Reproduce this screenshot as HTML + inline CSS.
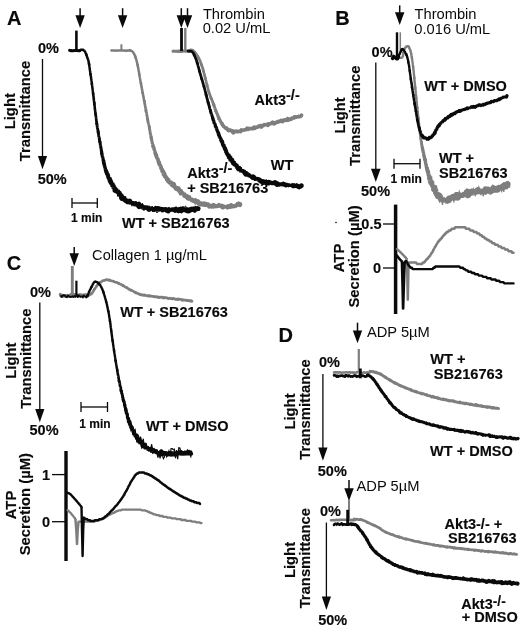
<!DOCTYPE html>
<html><head><meta charset="utf-8"><title>Figure</title>
<style>
html,body{margin:0;padding:0;background:#fff;}
body{width:520px;height:630px;overflow:hidden;}
svg{display:block;will-change:transform;filter:grayscale(1);}
svg text{font-family:"Liberation Sans",sans-serif;fill:#0a0a0a;}
svg text.b{stroke:#0a0a0a;stroke-width:0.15px;}
</style></head><body>
<svg width="520" height="630" viewBox="0 0 520 630">
<rect width="520" height="630" fill="#ffffff"/>
<text x="7" y="25" font-size="20" font-weight="bold" text-anchor="start" class="b">A</text>
<line x1="80.1" y1="8.2" x2="80.1" y2="17.2" stroke="#0a0a0a" stroke-width="1.5" stroke-linecap="butt"/>
<polygon points="75.4,15.2 84.8,15.2 80.1,28" fill="#0a0a0a"/>
<line x1="122.6" y1="8.2" x2="122.6" y2="17.2" stroke="#0a0a0a" stroke-width="1.5" stroke-linecap="butt"/>
<polygon points="117.9,15.2 127.3,15.2 122.6,28" fill="#0a0a0a"/>
<line x1="181.3" y1="8.2" x2="181.3" y2="17.2" stroke="#0a0a0a" stroke-width="1.5" stroke-linecap="butt"/>
<polygon points="176.6,15.2 186,15.2 181.3,28" fill="#0a0a0a"/>
<line x1="187.5" y1="8.2" x2="187.5" y2="17.2" stroke="#0a0a0a" stroke-width="1.5" stroke-linecap="butt"/>
<polygon points="182.8,15.2 192.2,15.2 187.5,28" fill="#0a0a0a"/>
<text x="202.9" y="18.5" font-size="14.7" font-weight="normal" text-anchor="start">Thrombin</text>
<text x="202.7" y="33.2" font-size="14.7" font-weight="normal" text-anchor="start">0.02 U/mL</text>
<text x="38" y="53" font-size="14.5" font-weight="bold" text-anchor="start" class="b">0%</text>
<text x="37.7" y="184" font-size="14.5" font-weight="bold" text-anchor="start" class="b">50%</text>
<line x1="42.5" y1="59" x2="42.5" y2="158" stroke="#0a0a0a" stroke-width="1.3" stroke-linecap="butt"/>
<polygon points="37.9,156 47.1,156 42.5,169.3" fill="#0a0a0a"/>
<text class="b" transform="translate(15.2 111.2) rotate(-90)" font-size="14.8" font-weight="bold" text-anchor="middle">Light</text>
<text class="b" transform="translate(30.4 111) rotate(-90)" font-size="14.8" font-weight="bold" text-anchor="middle">Transmittance</text>
<line x1="72" y1="203" x2="97.3" y2="203" stroke="#0a0a0a" stroke-width="1.3" stroke-linecap="butt"/>
<line x1="72" y1="198" x2="72" y2="208" stroke="#0a0a0a" stroke-width="1.3" stroke-linecap="butt"/>
<line x1="97.3" y1="198" x2="97.3" y2="208" stroke="#0a0a0a" stroke-width="1.3" stroke-linecap="butt"/>
<text x="71" y="221.6" font-size="12" font-weight="bold" text-anchor="start" class="b">1 min</text>
<line x1="76.4" y1="30.6" x2="76.4" y2="50.5" stroke="#0a0a0a" stroke-width="2.6" stroke-linecap="butt"/>
<polyline points="69.6,50.4 70.5,50.7 71.3,50.6 72.2,50.7 73.1,50.8 73.9,50.6 74.8,50.6 75.7,50.4 76.5,50.5 77.4,50.6 78.3,50.7 79.1,50.8 80,50.5" fill="none" stroke="#0a0a0a" stroke-width="3" stroke-linejoin="round" stroke-linecap="round"/>
<polyline points="79.5,50.4 80,50.1 80.6,50.2 81.1,49.7 81.6,49.7 82.1,49.9 82.7,49.5 83.2,50 83.7,50.4 84.2,50.4 84.5,50.9 84.8,51.5 85.1,51.6 85.4,52.4 85.6,53 85.8,53.4 86,53.9 86.2,54.2 86.4,54.9" fill="none" stroke="#0a0a0a" stroke-width="2.5" stroke-linejoin="bevel" stroke-linecap="round"/>
<polyline points="86.2,54.2 86.4,54.9 86.6,55.4 86.8,55.9 87,56.4 87.1,57.2 87.3,57.7 87.5,57.9 87.7,58.6 87.9,59 88.1,59.6 88.2,60.1 88.4,60.7 88.5,61.1 88.6,61.7 88.7,62.4 88.8,62.8 88.9,63.6 89,63.7 89.1,64.6" fill="none" stroke="#0a0a0a" stroke-width="2.5" stroke-linejoin="bevel" stroke-linecap="round"/>
<polyline points="89,63.7 89.1,64.6 89.2,64.9 89.3,65.5 89.4,66.2 89.4,66.6 89.5,67.1 89.6,67.5 89.7,68.1 89.7,68.9 89.8,69.4 89.9,70 90,70.7 90.1,71.1 90.1,71.3 90.2,72 90.3,72.7 90.4,73.1 90.5,74 90.5,74.5" fill="none" stroke="#0a0a0a" stroke-width="2.5" stroke-linejoin="bevel" stroke-linecap="round"/>
<polyline points="90.5,74 90.5,74.5 90.6,75 90.7,75.4 90.8,76.1 90.9,76.3 91,76.9 91,77.6 91.1,78.2 91.2,78.7 91.3,79 91.3,79.7 91.4,80.2 91.5,80.8 91.6,81.2 91.7,81.9 91.7,82.5 91.8,83.2 91.9,83.7 91.9,84.2" fill="none" stroke="#0a0a0a" stroke-width="2.5" stroke-linejoin="bevel" stroke-linecap="round"/>
<polyline points="91.9,83.7 91.9,84.2 92,84.7 92.1,85.4 92.2,86 92.2,86.4 92.3,87 92.4,87.7 92.4,87.8 92.5,88.7 92.6,89 92.6,89.6 92.7,90.3 92.8,90.8 92.8,91.1 92.9,91.9 93,92.1 93,92.8 93.1,93.6 93.2,94" fill="none" stroke="#0a0a0a" stroke-width="2.5" stroke-linejoin="bevel" stroke-linecap="round"/>
<polyline points="93.1,93.6 93.2,94 93.2,94.6 93.3,95.2 93.4,95.9 93.4,96.4 93.5,96.4 93.6,97.2 93.6,97.8 93.7,98.1 93.8,99 93.8,99.6 93.9,100.3 94,100.9 94,100.9 94.1,101.5 94.2,102.4 94.2,102.5 94.3,103.1 94.3,104" fill="none" stroke="#0a0a0a" stroke-width="2.6" stroke-linejoin="bevel" stroke-linecap="round"/>
<polyline points="94.3,103.1 94.3,104 94.4,104.2 94.5,105.2 94.5,105.9 94.6,105.7 94.7,106.7 94.7,107.5 94.8,108.2 94.8,108.1 94.9,108.5 95,109.8 95,110.4 95.1,110.2 95.2,111 95.2,111.8 95.3,112.5 95.4,112.3 95.4,113.4 95.5,114.1" fill="none" stroke="#0a0a0a" stroke-width="2.6" stroke-linejoin="bevel" stroke-linecap="round"/>
<polyline points="95.4,113.4 95.5,114.1 95.6,114.4 95.6,114.5 95.7,114.9 95.8,115.7 95.8,116.9 95.9,116.5 96,117 96,118 96.1,118.1 96.2,118.8 96.3,119.2 96.3,120.4 96.4,121.2 96.5,121.3 96.6,121.5 96.7,122.3 96.7,123.2 96.8,124.2" fill="none" stroke="#0a0a0a" stroke-width="2.7" stroke-linejoin="bevel" stroke-linecap="round"/>
<polyline points="96.7,123.2 96.8,124.2 96.9,124.9 97,124.3 97.1,124.5 97.1,126.3 97.2,127 97.3,126.8 97.4,127.9 97.5,128.6 97.6,128.7 97.7,129.7 97.7,128.9 97.8,129.8 97.9,130.4 98,130.6 98.1,132.5 98.2,131.6 98.3,133.2" fill="none" stroke="#0a0a0a" stroke-width="2.8" stroke-linejoin="bevel" stroke-linecap="round"/>
<polyline points="98.2,131.6 98.3,133.2 98.4,132.7 98.5,133.7 98.6,134.4 98.6,134.5 98.7,135.7 98.8,136.2 98.9,136.4 99,137.7 99.1,137.2 99.2,137.8 99.3,138.6 99.4,139.2 99.5,139.4 99.6,141.3 99.7,141.7 99.8,140.8 99.9,141.9 100,142.2" fill="none" stroke="#0a0a0a" stroke-width="2.9" stroke-linejoin="bevel" stroke-linecap="round"/>
<polyline points="99.9,141.9 100,142.2 100.1,143.1 100.2,143.3 100.3,144.3 100.4,145.7 100.5,145.2 100.6,146.3 100.7,146.7 100.8,147.6 100.9,146.7 101,148.7 101.1,149.7 101.2,149.5 101.3,149.3 101.3,150.7 101.4,151.3 101.5,151.8 101.6,151.2 101.7,153.6" fill="none" stroke="#0a0a0a" stroke-width="3" stroke-linejoin="bevel" stroke-linecap="round"/>
<polyline points="101.6,151.2 101.7,153.6 101.8,154.1 101.9,153.4 102,154.4 102.1,153.6 102.2,156.4 102.3,156.6 102.4,156.7 102.5,157.5 102.7,156.7 102.8,157.5 102.9,157.9 103,159.3 103.1,158.6 103.2,161.1 103.3,160.6 103.4,161.1 103.6,160.7 103.7,162.8" fill="none" stroke="#0a0a0a" stroke-width="3.1" stroke-linejoin="bevel" stroke-linecap="round"/>
<polyline points="103.6,160.7 103.7,162.8 103.8,163.7 103.9,163.7 104.1,163.2 104.2,165.2 104.3,164 104.5,166.4 104.6,166.2 104.7,166 104.9,167.1 105,168 105.2,167.5 105.3,169.6 105.5,169 105.7,170.8 105.8,171.2 106,169.6 106.2,171.7 106.4,171.3" fill="none" stroke="#0a0a0a" stroke-width="3.5" stroke-linejoin="bevel" stroke-linecap="round"/>
<polyline points="106.2,171.7 106.4,171.3 106.6,173.1 106.8,173 107,173.2 107.2,175 107.4,173.1 107.6,175.1 107.8,174.9 108,174.6 108.2,177.2 108.4,177.2 108.7,178.7 108.9,178.3 109.1,178 109.4,180.5 109.6,178.4 109.9,178.7 110.1,181.2 110.4,180.6" fill="none" stroke="#0a0a0a" stroke-width="4.1" stroke-linejoin="bevel" stroke-linecap="round"/>
<polyline points="110.1,181.2 110.4,180.6 110.6,181.1 110.9,183.1 111.1,182 111.4,184.1 111.6,183.9 111.9,183.4 112.2,183.1 112.4,184.1 112.7,186.7 113,185.5 113.3,185.3 113.5,186.1 113.8,188.4 114.1,186.7 114.4,189 114.8,187.6 115.1,190.5 115.4,189.7" fill="none" stroke="#0a0a0a" stroke-width="4.6" stroke-linejoin="bevel" stroke-linecap="round"/>
<polyline points="115.1,190.5 115.4,189.7 115.7,188.7 116.1,191.8 116.4,190.6 116.7,192.1 117.1,192 117.4,191.1 117.8,191.6 118.2,192.2 118.5,192.6 118.9,192.7 119.3,193.1 119.6,196.2 120,194.1 120.4,195.7 120.8,194.9 121.2,195.6 121.6,197.5 122,198.4" fill="none" stroke="#0a0a0a" stroke-width="5" stroke-linejoin="bevel" stroke-linecap="round"/>
<polyline points="121.6,197.5 122,198.4 122.4,197.3 122.8,196.3 123.2,199.5 123.7,197 124.1,198.3 124.5,199.1 125,200.4 125.5,200.5 125.9,200.1 126.4,199.8 126.9,201.4 127.4,201.7 127.9,202 128.4,201.8 128.9,200.2 129.4,201.1 129.9,201.9" fill="none" stroke="#0a0a0a" stroke-width="5" stroke-linejoin="bevel" stroke-linecap="round"/>
<polyline points="129.4,201.1 129.9,201.9 130.4,202.2 130.9,203.4 131.4,201.9 132,203.4 132.5,202.7 133,204.1 133.5,202.6 134.1,203.7 134.6,202.8 135.1,203.3 135.6,205.6 136.2,204 136.7,205.9 137.2,205 137.7,203.7 138.2,206.1 138.7,204.1 139.3,206.6" fill="none" stroke="#0a0a0a" stroke-width="5" stroke-linejoin="bevel" stroke-linecap="round"/>
<polyline points="138.7,204.1 139.3,206.6 139.8,204.3 140.3,206.5 140.8,205.1 141.4,205.8 141.9,207.8 142.4,206.6 143,207.3 143.5,207.7 144,206 144.6,208.3 145.1,208.7 145.6,206.5 146.2,207.9 146.7,207.2 147.3,208.7 147.8,206.7 148.4,208.3 148.9,209.2" fill="none" stroke="#0a0a0a" stroke-width="5" stroke-linejoin="bevel" stroke-linecap="round"/>
<polyline points="148.4,208.3 148.9,209.2 149.4,209.1 150,207.3 150.5,209.6 151.1,207.9 151.6,209.6 152.2,208.8 152.7,207.8 153.3,209.6 153.8,209.8 154.3,209.5 154.9,210.4 155.4,208.3 156,208.2 156.5,208 157.1,209.2 157.6,208.8 158.2,208.7 158.7,209.1" fill="none" stroke="#0a0a0a" stroke-width="5" stroke-linejoin="bevel" stroke-linecap="round"/>
<polyline points="158.2,208.7 158.7,209.1 159.3,208.5 159.9,207.8 160.4,209.2 161,208.6 161.5,209.2 162.1,210.6 162.6,208.4 163.2,209.8 163.7,209.8 164.3,208.8 164.8,209.3 165.4,210.9 165.9,209 166.5,210.1 167.1,210.5 167.6,209.1 168.2,211 168.7,209.9" fill="none" stroke="#0a0a0a" stroke-width="5" stroke-linejoin="bevel" stroke-linecap="round"/>
<polyline points="168.2,211 168.7,209.9 169.3,209.5 169.8,210.1 170.4,209.3 170.9,210.1 171.5,208.8 172,210.8 172.6,209.6 173.1,208.7 173.7,209.3 174.2,210.7 174.8,210.4 175.3,209.5 175.9,209.1 176.5,209.1 177,210.9 177.6,208.3 178.1,210.7 178.7,210.6" fill="none" stroke="#0a0a0a" stroke-width="5" stroke-linejoin="bevel" stroke-linecap="round"/>
<polyline points="178.1,210.7 178.7,210.6 179.2,208.7 179.8,209 180.3,209.7 180.9,210.4 181.4,210.9 182,211 182.5,208.8 183.1,208.6 183.6,209.5 184.2,209.7 184.7,210 185.3,208.3 185.8,209.9 186.4,210.8 186.9,210.7 187.5,210.8 188.1,210.8 188.6,210.9" fill="none" stroke="#0a0a0a" stroke-width="5" stroke-linejoin="bevel" stroke-linecap="round"/>
<polyline points="188.1,210.8 188.6,210.9 189.2,208.1 189.7,210.7 190.3,208.8 190.8,209 191.4,209.4 191.9,210.9 192.5,209.8 193,209.1 193.6,209.1 194.1,210.7 194.7,210.5 195.2,208.4 195.8,208.7 196.3,209.1 196.9,208.7 197.4,209.7 198,208.7" fill="none" stroke="#0a0a0a" stroke-width="5" stroke-linejoin="bevel" stroke-linecap="round"/>
<polyline points="101.4,150.9 101.6,152 101.8,153.1 102,154.1 102.2,155.2 102.4,156.3 102.7,157.5 102.9,158.5 103.1,159.5 103.3,160.6 103.6,161.5 103.8,162.9 104.1,164.1 104.3,164.9 104.6,166.3 104.9,167.1 105.2,168.1 105.5,169.1 105.8,170.2 106.2,172.2 106.6,172.5 107,173.6 107.4,173.4 107.8,175.5 108.2,176.3 108.7,176.2 109.1,178.4 109.6,179 110.1,180.2 110.6,182.8 111.1,183.3 111.6,184.4 112.2,182.3 112.7,184.7 113.3,185.4 113.8,184.9 114.4,185.7 115.1,192.1 115.7,192.8 116.4,190.2 117.1,190.1 117.8,196.1 118.5,194.2 119.3,194.2 120,195 120.8,194.4 121.6,197.4 122.4,199 123.2,198.2 124.1,199.5 125,198.3 125.9,200.6 126.9,203.9 127.9,200 128.9,201.4 129.9,202.9 130.9,202 132,206.2 133,203.3 134.1,203.7 135.1,205.2 136.2,203.3 137.2,207.5 138.2,204.3 139.3,204.7 140.3,205.9 141.4,206.1 142.4,203.3 143.5,206.5 144.6,206.3 145.6,208.7 146.7,208.9 147.8,208.3 148.9,209.4 150,211.1 151.1,207.8 152.2,206 153.3,209.6 154.3,207.7 155.4,207.8 156.5,212.5 157.6,212.5 158.7,209.3 159.9,209.5 161,210.5 162.1,212.4 163.2,209.3 164.3,209.6 165.4,207.5 166.5,207.6 167.6,209.5 168.7,207.5 169.8,208.3 170.9,209.2 172,211.3 173.1,208.9 174.2,212.1 175.3,211 176.5,209.9 177.6,212.3 178.7,208.4 179.8,208.7 180.9,212.4 182,212.4 183.1,206.5 184.2,210.2 185.3,206 186.4,206.9 187.5,208.5 188.6,209 189.7,208.7 190.8,212.5 191.9,209 193,206.8 194.1,207.9 195.2,205.9 196.3,208.3 197.4,209" fill="none" stroke="#0a0a0a" stroke-width="1" stroke-linejoin="miter" stroke-linecap="butt"/>
<line x1="121.4" y1="44.3" x2="121.4" y2="50.5" stroke="#7e7e7e" stroke-width="2" stroke-linecap="butt"/>
<polyline points="111.4,50.4 112.3,50.5 113.1,50.4 114,50.6 114.9,50.5 115.7,50.7 116.6,50.6 117.5,50.4 118.3,50.4 119.2,50.6 120.1,50.5 121,50.3 121.8,50.6 122.7,50.5 123.6,50.6 124.4,50.6 125.3,50.7 126.2,50.6 127,50.7 127.9,50.4 128.8,50.4 129.6,50.3 130.5,50.6" fill="none" stroke="#7e7e7e" stroke-width="2.5" stroke-linejoin="round" stroke-linecap="round"/>
<polyline points="129.8,50.1 130.4,50.5 130.9,50.7 131.4,51.1 131.8,51.1 132.3,51.3 132.7,51.8 133,52.1 133.4,52.7 133.7,53.3 134,53.5 134.2,54.4 134.5,54.7 134.7,55 134.9,55.8 135.1,56 135.3,56.6 135.5,57.4" fill="none" stroke="#7e7e7e" stroke-width="2.5" stroke-linejoin="bevel" stroke-linecap="round"/>
<polyline points="135.3,56.6 135.5,57.4 135.7,57.6 135.8,58.4 136,58.6 136.2,59.3 136.3,59.9 136.5,60.3 136.6,60.9 136.8,61.5 136.9,62.1 137,62.4 137.2,63.1 137.3,63.9 137.4,64.1 137.5,64.9 137.7,65.1 137.8,65.8" fill="none" stroke="#7e7e7e" stroke-width="2.5" stroke-linejoin="bevel" stroke-linecap="round"/>
<polyline points="137.7,65.1 137.8,65.8 137.9,66.4 138,66.9 138.1,67.5 138.2,68.1 138.3,68.6 138.4,69.2 138.5,69.8 138.6,70.1 138.7,70.9 138.8,71.2 138.9,71.7 139,72.2 139.1,73 139.1,73.5 139.2,73.8 139.3,74.6 139.4,74.8" fill="none" stroke="#7e7e7e" stroke-width="2.5" stroke-linejoin="bevel" stroke-linecap="round"/>
<polyline points="139.3,74.6 139.4,74.8 139.5,75.6 139.6,76.2 139.7,76.8 139.8,77.1 139.9,77.6 140,78.4 140.1,79 140.2,79.6 140.3,79.9 140.4,80.6 140.5,81.2 140.6,81.8 140.7,82.1 140.8,82.9 140.9,83.1 141,83.6" fill="none" stroke="#7e7e7e" stroke-width="2.5" stroke-linejoin="bevel" stroke-linecap="round"/>
<polyline points="140.9,83.1 141,83.6 141.1,84.2 141.2,85 141.3,85.7 141.4,85.9 141.5,86.6 141.6,86.8 141.7,87.6 141.8,88.1 141.9,88.6 142,89 142.1,89.8 142.2,90.4 142.3,90.9 142.4,91.6 142.5,91.9 142.6,92.8 142.7,93.1" fill="none" stroke="#7e7e7e" stroke-width="2.6" stroke-linejoin="bevel" stroke-linecap="round"/>
<polyline points="142.6,92.8 142.7,93.1 142.8,93.9 142.9,94 143,94.8 143.1,94.9 143.2,95.3 143.3,96.7 143.4,96.7 143.5,96.9 143.7,98 143.8,98.9 143.9,99.3 144,100 144.1,100.5 144.2,100.6 144.3,100.9 144.4,101.2" fill="none" stroke="#7e7e7e" stroke-width="2.6" stroke-linejoin="bevel" stroke-linecap="round"/>
<polyline points="144.3,100.9 144.4,101.2 144.5,102 144.6,102.9 144.7,103.8 144.8,103.3 144.9,104.8 145,105.3 145.1,105.7 145.2,105.6 145.3,106 145.4,107.4 145.5,107.9 145.6,108 145.7,108.6 145.8,108.7 145.9,110.5 146,110.8" fill="none" stroke="#7e7e7e" stroke-width="2.7" stroke-linejoin="bevel" stroke-linecap="round"/>
<polyline points="145.9,110.5 146,110.8 146.1,111.6 146.2,111.9 146.3,112 146.4,113 146.5,112.7 146.6,113.9 146.7,113.8 146.8,114.6 146.9,115.8 147,115.7 147.1,117 147.2,117.1 147.3,117.1 147.4,117.6 147.5,117.8 147.6,119.2 147.7,120.2" fill="none" stroke="#7e7e7e" stroke-width="2.8" stroke-linejoin="bevel" stroke-linecap="round"/>
<polyline points="147.6,119.2 147.7,120.2 147.8,119.7 147.9,120.7 148,122.1 148.1,121.6 148.2,123.1 148.3,123.4 148.5,123.4 148.6,124.2 148.7,123.8 148.8,125.1 148.9,126.1 149,125.7 149.1,125.9 149.2,126.4 149.3,127.2 149.4,127.8" fill="none" stroke="#7e7e7e" stroke-width="2.8" stroke-linejoin="bevel" stroke-linecap="round"/>
<polyline points="149.3,127.2 149.4,127.8 149.5,129.4 149.6,129.3 149.7,130 149.8,130.1 149.9,130.6 150,131.7 150.1,132.6 150.2,132 150.3,133.1 150.4,134 150.5,135.2 150.6,134.4 150.7,135.2 150.9,136.1 151,135.7 151.1,137.2 151.2,138.5" fill="none" stroke="#7e7e7e" stroke-width="2.9" stroke-linejoin="bevel" stroke-linecap="round"/>
<polyline points="151.1,137.2 151.2,138.5 151.3,137.6 151.4,138.6 151.5,138.4 151.6,139.8 151.7,141.3 151.8,140.9 152,140.7 152.1,141.5 152.2,142.7 152.3,143.8 152.4,143.4 152.6,144 152.7,145.3 152.8,144.2 153,146.7 153.1,146.1" fill="none" stroke="#7e7e7e" stroke-width="3.1" stroke-linejoin="bevel" stroke-linecap="round"/>
<polyline points="153,146.7 153.1,146.1 153.3,146.3 153.4,147.9 153.6,147.2 153.7,147.4 153.9,148.2 154.1,149.8 154.2,148.9 154.4,150.3 154.6,150.3 154.8,151.5 154.9,151.1 155.1,153.2 155.3,154.1 155.5,153.1 155.7,153.7 155.9,154.8 156.1,155.7" fill="none" stroke="#7e7e7e" stroke-width="3.5" stroke-linejoin="bevel" stroke-linecap="round"/>
<polyline points="155.9,154.8 156.1,155.7 156.3,154.4 156.5,156.6 156.7,157.5 156.9,157.9 157.1,157.5 157.3,159.1 157.5,158.8 157.7,158.4 157.9,159.1 158.1,160.5 158.3,160.9 158.5,162.1 158.7,162.4 158.9,161.5 159.1,162.5 159.3,164.1" fill="none" stroke="#7e7e7e" stroke-width="3.7" stroke-linejoin="bevel" stroke-linecap="round"/>
<polyline points="159.1,162.5 159.3,164.1 159.5,163.8 159.7,163.6 159.9,166.2 160.1,165.3 160.3,165.4 160.5,166.5 160.8,166.5 161,166.9 161.2,168.5 161.4,169.4 161.6,168.9 161.8,168.7 162.1,170.1 162.3,170.4 162.5,171 162.8,170.9" fill="none" stroke="#7e7e7e" stroke-width="3.9" stroke-linejoin="bevel" stroke-linecap="round"/>
<polyline points="162.5,171 162.8,170.9 163,172.9 163.2,171.8 163.5,171.9 163.7,174.2 164,174.8 164.2,173.9 164.5,174.2 164.8,175.8 165.1,177.2 165.3,175.8 165.6,177 165.9,176.7 166.2,178.5 166.5,178.1 166.8,178.3 167.2,179.5 167.5,179.6" fill="none" stroke="#7e7e7e" stroke-width="4.3" stroke-linejoin="bevel" stroke-linecap="round"/>
<polyline points="167.2,179.5 167.5,179.6 167.8,179.1 168.2,180.1 168.6,182 169,182 169.3,181.6 169.7,182.4 170.1,181.3 170.5,182.5 170.9,184.2 171.4,182.6 171.8,185.2 172.2,185.2 172.6,185.1 173,184.6 173.5,184.2 173.9,185.1" fill="none" stroke="#7e7e7e" stroke-width="4.6" stroke-linejoin="bevel" stroke-linecap="round"/>
<polyline points="173.5,184.2 173.9,185.1 174.3,186.8 174.7,186.2 175.2,187.7 175.6,186.4 176,188.5 176.4,188.9 176.8,188.9 177.2,187.8 177.7,188.3 178.1,188.2 178.5,188.5 178.9,190.8 179.3,190.5 179.7,191.7 180.1,190.7 180.6,191.2 181,193.2" fill="none" stroke="#7e7e7e" stroke-width="4.6" stroke-linejoin="bevel" stroke-linecap="round"/>
<polyline points="180.6,191.2 181,193.2 181.4,193.8 181.8,191.7 182.3,194 182.7,193.7 183.1,192.6 183.5,194.6 184,194.1 184.4,194.6 184.8,196.7 185.3,196.4 185.7,194.8 186.2,196.9 186.6,195.4 187.1,198.2 187.5,197.7 188,198.1" fill="none" stroke="#7e7e7e" stroke-width="4.6" stroke-linejoin="bevel" stroke-linecap="round"/>
<polyline points="187.5,197.7 188,198.1 188.4,196.7 188.9,197.1 189.3,198.7 189.8,198.5 190.3,200 190.7,198.8 191.2,199.3 191.7,198.8 192.2,200.1 192.6,201.6 193.1,199.9 193.6,201.5 194.1,200 194.6,202.2 195.1,201.4 195.6,200.5" fill="none" stroke="#7e7e7e" stroke-width="4.6" stroke-linejoin="bevel" stroke-linecap="round"/>
<polyline points="195.1,201.4 195.6,200.5 196.1,202.6 196.6,203.1 197.2,201.2 197.7,201.4 198.2,201.9 198.7,202.9 199.3,204.3 199.8,204.2 200.3,202.9 200.9,202.3 201.4,204.1 201.9,204.2 202.5,203.4 203,204.6 203.6,205.8 204.1,203.6 204.7,204.3" fill="none" stroke="#7e7e7e" stroke-width="4.6" stroke-linejoin="bevel" stroke-linecap="round"/>
<polyline points="204.1,203.6 204.7,204.3 205.2,205.9 205.8,204.1 206.3,204.1 206.8,204.4 207.4,206.2 207.9,204.5 208.5,204.5 209,206.1 209.6,206.5 210.1,206.6 210.7,205.7 211.2,207.1 211.8,205 212.3,205.9 212.8,205.7 213.4,206.2" fill="none" stroke="#7e7e7e" stroke-width="4.6" stroke-linejoin="bevel" stroke-linecap="round"/>
<polyline points="212.8,205.7 213.4,206.2 213.9,205.2 214.5,205.1 215,207.5 215.6,205.6 216.1,206.2 216.7,207.4 217.2,205.7 217.8,205.9 218.4,206.4 218.9,205.1 219.5,205 220,206.7 220.6,206 221.2,205.2 221.7,205.8 222.3,206.9 222.8,207.1" fill="none" stroke="#7e7e7e" stroke-width="4.6" stroke-linejoin="bevel" stroke-linecap="round"/>
<polyline points="222.3,206.9 222.8,207.1 223.4,206.4 224,205.6 224.5,207.4 225.1,205.6 225.6,207.2 226.2,205.5 226.7,207.7 227.3,207.2 227.8,206.5 228.4,206.3 228.9,206.7 229.5,206.9 230,206.7 230.6,207 231.1,205.3 231.6,206.2" fill="none" stroke="#7e7e7e" stroke-width="4.6" stroke-linejoin="bevel" stroke-linecap="round"/>
<polyline points="231.1,205.3 231.6,206.2 232.2,207.1 232.7,206.2 233.2,207.6 233.7,206.2 234.3,205.4 234.8,206.9 235.3,205.4 235.9,205.5 236.4,205.6 236.9,205.9 237.4,203.9 237.9,205.5 238.5,204.4 239,203.6 239.5,203.3 240,204.8" fill="none" stroke="#7e7e7e" stroke-width="4.6" stroke-linejoin="bevel" stroke-linecap="round"/>
<polyline points="150.4,133.7 150.6,134.8 150.9,135.9 151.1,137 151.3,138.1 151.5,139.1 151.7,140.3 152,141.4 152.2,142.2 152.4,143.4 152.7,144.5 153,145.6 153.3,146.4 153.6,147.4 153.9,148.7 154.2,149.8 154.6,150.4 154.9,152.4 155.3,152.9 155.7,153.8 156.1,155.4 156.5,156.7 156.9,156.8 157.3,157 157.7,159.6 158.1,160.9 158.5,161.6 158.9,162.5 159.3,163.6 159.7,164.2 160.1,164.7 160.5,165.1 161,167.9 161.4,168.8 161.8,168.8 162.3,170.1 162.8,171.3 163.2,173.1 163.7,172.3 164.2,173.8 164.8,174.9 165.3,175.5 165.9,177.8 166.5,178.3 167.2,178.9 167.8,182.9 168.6,182.9 169.3,180.7 170.1,181.7 170.9,182.9 171.8,181.1 172.6,186.3 173.5,187.1 174.3,185.6 175.2,189.4 176,187.9 176.8,186.5 177.7,189.3 178.5,190.9 179.3,191 180.1,194.3 181,194.7 181.8,192.6 182.7,193.1 183.5,193.2 184.4,194.8 185.3,193.7 186.2,194 187.1,197.8 188,194.6 188.9,197.5 189.8,199.9 190.7,199.8 191.7,199.7 192.6,202.3 193.6,200.1 194.6,199.3 195.6,201.7 196.6,199.5 197.7,203.6 198.7,203.8 199.8,205.2 200.9,206.1 201.9,203 203,204.1 204.1,205.5 205.2,207.1 206.3,205.8 207.4,205.8 208.5,205.1 209.6,204.3 210.7,204.9 211.8,208.6 212.8,205.6 213.9,207.2 215,205 216.1,206.9 217.2,206.4 218.4,205.2 219.5,206.7 220.6,206.8 221.7,206.8 222.8,207.7 224,206.8 225.1,208.2 226.2,206.2 227.3,209.4 228.4,206.4 229.5,205 230.6,207.6 231.6,205.1 232.7,206 233.7,207.4 234.8,207.7 235.9,205 236.9,202 237.9,204.6 239,204.6 240,205" fill="none" stroke="#7e7e7e" stroke-width="1" stroke-linejoin="miter" stroke-linecap="butt"/>
<polyline points="173,51.2 173.8,51.1 174.7,51.3 175.6,51.2 176.4,51.2 177.2,51.4 178.1,51.1 178.9,51.6 179.8,51.1 180.7,51.6 181.5,51.1 182.3,51.6 183.2,51 184.1,51 184.9,51.1 185.8,51.4 186.6,51.1 187.4,51.2 188.3,51.4 189.2,51 190,51.3" fill="none" stroke="#7e7e7e" stroke-width="3" stroke-linejoin="round" stroke-linecap="round"/>
<line x1="185.3" y1="28" x2="185.3" y2="51" stroke="#7e7e7e" stroke-width="2.4" stroke-linecap="butt"/>
<line x1="181.5" y1="28" x2="181.5" y2="51" stroke="#0a0a0a" stroke-width="2.8" stroke-linecap="butt"/>
<polyline points="189,51 189.5,50.4 190,50.4 190.6,49.9 191.1,49.8 191.5,49.9 192,50 192.5,50 192.9,50.3 193.4,51.1 193.8,51.3 194.2,51.7 194.6,52 195,52.6" fill="none" stroke="#7e7e7e" stroke-width="2.7" stroke-linejoin="bevel" stroke-linecap="round"/>
<polyline points="194.6,52 195,52.6 195.3,52.9 195.7,53.4 196,53.8 196.3,54 196.6,54.7 196.9,55.3 197.2,55.6 197.5,56 197.8,56.3 198.1,57.1 198.3,57.5 198.6,57.9 198.9,58.4" fill="none" stroke="#7e7e7e" stroke-width="2.7" stroke-linejoin="bevel" stroke-linecap="round"/>
<polyline points="198.6,57.9 198.9,58.4 199.1,58.9 199.4,59.4 199.6,59.9 199.8,60.5 200.1,60.8 200.3,61.4 200.5,62 200.7,62.7 200.9,63 201.1,63.6 201.3,64.2 201.5,64.7 201.7,65.2" fill="none" stroke="#7e7e7e" stroke-width="2.7" stroke-linejoin="bevel" stroke-linecap="round"/>
<polyline points="201.5,64.7 201.7,65.2 201.8,65.7 202,66.2 202.2,66.5 202.3,67 202.5,67.5 202.7,68.1 202.8,68.8 203,69.4 203.1,69.7 203.3,70.5 203.4,70.9 203.5,71.5" fill="none" stroke="#7e7e7e" stroke-width="2.7" stroke-linejoin="bevel" stroke-linecap="round"/>
<polyline points="203.4,70.9 203.5,71.5 203.7,71.8 203.8,72.7 204,72.9 204.1,73.5 204.2,74.1 204.4,74.7 204.5,75.2 204.7,75.9 204.8,76.1 205,76.9 205.1,77.3 205.2,78 205.4,78.5" fill="none" stroke="#7e7e7e" stroke-width="2.7" stroke-linejoin="bevel" stroke-linecap="round"/>
<polyline points="205.2,78 205.4,78.5 205.5,79.1 205.7,79.6 205.8,80.1 205.9,80.4 206.1,81.1 206.2,81.8 206.3,82.3 206.4,82.9 206.6,83.2 206.7,83.6 206.8,84.4 207,84.8 207.1,85.5" fill="none" stroke="#7e7e7e" stroke-width="2.7" stroke-linejoin="bevel" stroke-linecap="round"/>
<polyline points="207,84.8 207.1,85.5 207.2,85.8 207.4,86.4 207.5,87.1 207.6,87.4 207.8,88 207.9,88.4 208.1,89.4 208.2,89.8 208.4,90.3 208.5,90.8 208.7,91.6 208.8,91.7" fill="none" stroke="#7e7e7e" stroke-width="2.7" stroke-linejoin="bevel" stroke-linecap="round"/>
<polyline points="208.7,91.6 208.8,91.7 209,92.5 209.1,92.6 209.3,93.5 209.5,93.7 209.7,94.1 209.9,95.2 210.1,95.3 210.3,96.3 210.5,96.6 210.7,97.1 210.9,97.6 211.1,98.4 211.3,98.3" fill="none" stroke="#7e7e7e" stroke-width="2.8" stroke-linejoin="bevel" stroke-linecap="round"/>
<polyline points="211.1,98.4 211.3,98.3 211.5,99.4 211.7,99.4 211.9,99.7 212.1,101 212.3,100.7 212.5,101.6 212.8,102.4 213,102.4 213.2,103.4 213.4,103.8 213.5,104.4 213.7,104.4 213.9,105.4" fill="none" stroke="#7e7e7e" stroke-width="2.9" stroke-linejoin="bevel" stroke-linecap="round"/>
<polyline points="213.7,104.4 213.9,105.4 214.1,106.1 214.3,105.9 214.5,107.3 214.7,107.8 214.8,107.6 215,108.9 215.2,109.4 215.4,109 215.6,110.2 215.7,111 215.9,111.4 216.1,111.1" fill="none" stroke="#7e7e7e" stroke-width="3" stroke-linejoin="bevel" stroke-linecap="round"/>
<polyline points="215.9,111.4 216.1,111.1 216.3,111.9 216.5,112.6 216.7,112.9 216.9,113.4 217.1,113.6 217.3,113.9 217.5,114.8 217.8,115.5 218,116.2 218.2,117.2 218.4,116.6 218.6,117.4 218.9,118.7" fill="none" stroke="#7e7e7e" stroke-width="3.1" stroke-linejoin="bevel" stroke-linecap="round"/>
<polyline points="218.6,117.4 218.9,118.7 219.1,119.1 219.3,118.6 219.6,119.9 219.8,119.6 220.1,121.4 220.3,120.8 220.6,121.9 220.9,122.1 221.2,122.7 221.4,122.7 221.7,123.4 222,123.7 222.3,124.6" fill="none" stroke="#7e7e7e" stroke-width="3.3" stroke-linejoin="bevel" stroke-linecap="round"/>
<polyline points="222,123.7 222.3,124.6 222.7,124.7 223,125.4 223.3,125.8 223.7,126.4 224.1,127.3 224.5,127 224.9,127.4 225.3,127.9 225.8,128.2 226.2,128.3 226.7,128.3 227.1,129.1" fill="none" stroke="#7e7e7e" stroke-width="3.6" stroke-linejoin="bevel" stroke-linecap="round"/>
<polyline points="226.7,128.3 227.1,129.1 227.6,128.9 228,129.9 228.5,130.6 229,130.7 229.5,131 230,130.1 230.5,130.1 231.1,130.6 231.6,131.5 232.1,130.8 232.7,130.8 233.2,132.7 233.7,131.4" fill="none" stroke="#7e7e7e" stroke-width="3.7" stroke-linejoin="bevel" stroke-linecap="round"/>
<polyline points="233.2,132.7 233.7,131.4 234.3,130.8 234.8,131.7 235.4,132 235.9,131.5 236.5,130.8 237,131.5 237.6,130.5 238.1,131.8 238.7,132.1 239.2,130.3 239.8,131.2 240.3,131.6 240.9,131.1" fill="none" stroke="#7e7e7e" stroke-width="3.8" stroke-linejoin="bevel" stroke-linecap="round"/>
<polyline points="240.3,131.6 240.9,131.1 241.4,130 241.9,129.7 242.5,130.4 243,129.4 243.5,130.8 244.1,130 244.6,129.5 245.1,130.2 245.7,129 246.2,129.4 246.7,129.3 247.3,128.3" fill="none" stroke="#7e7e7e" stroke-width="3.8" stroke-linejoin="bevel" stroke-linecap="round"/>
<polyline points="246.7,129.3 247.3,128.3 247.8,129.6 248.3,129.3 248.9,128.2 249.4,128.5 250,128.1 250.5,129.3 251,128.6 251.6,129.1 252.1,128.6 252.7,128.5 253.2,127.4 253.7,128.4 254.3,127.3" fill="none" stroke="#7e7e7e" stroke-width="3.8" stroke-linejoin="bevel" stroke-linecap="round"/>
<polyline points="253.7,128.4 254.3,127.3 254.8,128.1 255.4,127.8 255.9,127.3 256.4,126.5 257,127.2 257.5,127.1 258.1,127.1 258.6,125.8 259.1,126 259.7,126.5 260.2,127 260.8,125.6 261.3,126.8" fill="none" stroke="#7e7e7e" stroke-width="3.8" stroke-linejoin="bevel" stroke-linecap="round"/>
<polyline points="260.8,125.6 261.3,126.8 261.8,126.9 262.4,125 262.9,126.1 263.5,125.3 264,124.7 264.5,124.7 265.1,124.9 265.6,124.1 266.1,125.3 266.7,124.7 267.2,124.3 267.7,125.2" fill="none" stroke="#7e7e7e" stroke-width="3.8" stroke-linejoin="bevel" stroke-linecap="round"/>
<polyline points="267.2,124.3 267.7,125.2 268.3,125.3 268.8,124.1 269.4,123.7 269.9,124.2 270.4,123.6 271,124.5 271.5,123.1 272,122.7 272.6,122.3 273.1,122.5 273.6,122.2 274.2,123.7 274.7,123.1" fill="none" stroke="#7e7e7e" stroke-width="3.8" stroke-linejoin="bevel" stroke-linecap="round"/>
<polyline points="274.2,123.7 274.7,123.1 275.2,122.7 275.8,123.3 276.3,122.5 276.8,122.6 277.4,121.3 277.9,121.5 278.5,122 279,122.3 279.5,121 280.1,121.2 280.6,120.8 281.1,120.6 281.7,121.1" fill="none" stroke="#7e7e7e" stroke-width="3.8" stroke-linejoin="bevel" stroke-linecap="round"/>
<polyline points="281.1,120.6 281.7,121.1 282.2,121.6 282.7,121.6 283.3,120.7 283.8,119.4 284.3,119.8 284.9,120.4 285.4,120.8 286,119.2 286.5,120.4 287,120.4 287.6,118.6 288.1,120.1" fill="none" stroke="#7e7e7e" stroke-width="3.8" stroke-linejoin="bevel" stroke-linecap="round"/>
<polyline points="287.6,118.6 288.1,120.1 288.6,119.4 289.2,119.8 289.7,119.3 290.2,119.2 290.8,119.4 291.3,119.1 291.8,118.2 292.4,118 292.9,119.1 293.5,117.5 294,117.6 294.5,117 295.1,117.3" fill="none" stroke="#7e7e7e" stroke-width="3.8" stroke-linejoin="bevel" stroke-linecap="round"/>
<polyline points="294.5,117 295.1,117.3 295.6,117.6 296.1,116.7 296.7,117 297.2,117.3 297.7,116.7 298.3,117.3 298.8,116.7 299.4,116.2 299.9,116.8 300.4,116.4 301,116 301.5,115.3" fill="none" stroke="#7e7e7e" stroke-width="3.8" stroke-linejoin="bevel" stroke-linecap="round"/>
<polyline points="215.2,108.9 215.6,109.9 215.9,111 216.3,112 216.7,113.2 217.1,114 217.5,114.8 218,116.3 218.4,117.5 218.9,118.1 219.3,119.4 219.8,120 220.3,121.8 220.9,121.9 221.4,123.2 222,124.3 222.7,124.7 223.3,126.6 224.1,126.8 224.9,127.1 225.8,126.6 226.7,128.9 227.6,128.9 228.5,129.9 229.5,129.3 230.5,129 231.6,129.7 232.7,132.2 233.7,131.1 234.8,131.3 235.9,132 237,131.1 238.1,131.3 239.2,131 240.3,132.3 241.4,130.6 242.5,129.4 243.5,131 244.6,129.3 245.7,130.2 246.7,129.5 247.8,128.3 248.9,129.2 250,129.7 251,128.2 252.1,127.2 253.2,126 254.3,129.4 255.4,129.7 256.4,126.8 257.5,126.6 258.6,127.4 259.7,126.9 260.8,126.8 261.8,126.4 262.9,126 264,126 265.1,124.3 266.1,124.8 267.2,125.6 268.3,123.4 269.4,122.9 270.4,123.7 271.5,123.7 272.6,120.9 273.6,124.2 274.7,123.7 275.8,121.1 276.8,121.7 277.9,121.3 279,121.2 280.1,122.1 281.1,120.9 282.2,122.8 283.3,119 284.3,119 285.4,120 286.5,119.1 287.6,118.8 288.6,119.5 289.7,118.7 290.8,119.6 291.8,117.1 292.9,117.8 294,118.5 295.1,118 296.1,116.7 297.2,116.9 298.3,114.9 299.4,115.8 300.4,116.4 301.5,114.1" fill="none" stroke="#7e7e7e" stroke-width="1" stroke-linejoin="miter" stroke-linecap="butt"/>
<polyline points="188,50.9 188.6,51.2 189.2,51.2 189.8,50.9 190.3,51.2 190.8,51.2 191.2,51.3 191.6,51.5 192,51.7 192.4,52 192.7,52.4 193,52.7 193.4,53.2 193.7,53.8 194,54.6 194.2,55" fill="none" stroke="#0a0a0a" stroke-width="2.7" stroke-linejoin="bevel" stroke-linecap="round"/>
<polyline points="194,54.6 194.2,55 194.5,55.7 194.8,56.4 195,56.7 195.2,57.3 195.5,57.8 195.7,58.6 195.9,59 196.1,59.2 196.3,59.7 196.5,60.3 196.6,61.1 196.8,61.4 197,62.1 197.1,62.6 197.3,63.2" fill="none" stroke="#0a0a0a" stroke-width="2.7" stroke-linejoin="bevel" stroke-linecap="round"/>
<polyline points="197.1,62.6 197.3,63.2 197.5,63.6 197.6,64 197.8,64.6 197.9,65.3 198,65.9 198.2,66.2 198.3,66.8 198.5,67.4 198.6,67.8 198.8,68.3 198.9,68.8 199,69.5 199.2,69.9 199.3,70.7 199.5,71.2" fill="none" stroke="#0a0a0a" stroke-width="2.7" stroke-linejoin="bevel" stroke-linecap="round"/>
<polyline points="199.3,70.7 199.5,71.2 199.6,71.8 199.8,72.3 199.9,72.7 200.1,73.1 200.2,73.7 200.4,74.4 200.5,74.9 200.7,75.2 200.9,75.9 201,76.5 201.2,77.1 201.3,77.6 201.5,78.2 201.6,78.5 201.8,79.1" fill="none" stroke="#0a0a0a" stroke-width="2.7" stroke-linejoin="bevel" stroke-linecap="round"/>
<polyline points="201.6,78.5 201.8,79.1 202,79.4 202.1,80.2 202.3,80.6 202.4,81.1 202.6,81.6 202.7,82.3 202.9,82.7 203,83.2 203.2,83.8 203.3,84.5 203.5,84.8 203.6,85.2 203.8,85.8 203.9,86.6 204.1,86.8" fill="none" stroke="#0a0a0a" stroke-width="2.7" stroke-linejoin="bevel" stroke-linecap="round"/>
<polyline points="203.9,86.6 204.1,86.8 204.2,87.6 204.4,88.1 204.5,88.6 204.7,89.1 204.8,89.7 204.9,90 205.1,90.7 205.2,91.2 205.4,91.7 205.5,92.4 205.6,92.8 205.8,93.2 205.9,93.8 206,94.4 206.2,95.1" fill="none" stroke="#0a0a0a" stroke-width="2.7" stroke-linejoin="bevel" stroke-linecap="round"/>
<polyline points="206,94.4 206.2,95.1 206.3,95.7 206.4,96.1 206.6,96.4 206.7,97.2 206.9,97.9 207,98 207.1,98.7 207.3,99.1 207.4,99.9 207.6,100.2 207.7,101.2 207.8,101.4 208,102 208.1,102.4 208.3,102.9" fill="none" stroke="#0a0a0a" stroke-width="2.8" stroke-linejoin="bevel" stroke-linecap="round"/>
<polyline points="208.1,102.4 208.3,102.9 208.4,103.3 208.6,104.3 208.7,104.5 208.9,105 209,105.6 209.2,106 209.3,106.6 209.5,107.1 209.6,108.2 209.8,108.7 209.9,108.7 210.1,109.7 210.2,109.6 210.4,110.6 210.5,111.3" fill="none" stroke="#0a0a0a" stroke-width="2.9" stroke-linejoin="bevel" stroke-linecap="round"/>
<polyline points="210.4,110.6 210.5,111.3 210.7,111.3 210.8,111.8 211,112.9 211.1,113.3 211.3,114.1 211.4,113.9 211.6,114.4 211.8,114.8 211.9,115.6 212.1,115.9 212.3,117 212.4,116.9 212.6,117.8 212.8,118.4" fill="none" stroke="#0a0a0a" stroke-width="3" stroke-linejoin="bevel" stroke-linecap="round"/>
<polyline points="212.6,117.8 212.8,118.4 212.9,118.5 213.1,119.7 213.3,120.5 213.5,120.4 213.7,121 213.9,121.4 214,122.6 214.2,123 214.4,123.7 214.6,123.5 214.8,123.9 215,124 215.2,124.6 215.4,126.3 215.6,126.3" fill="none" stroke="#0a0a0a" stroke-width="3.2" stroke-linejoin="bevel" stroke-linecap="round"/>
<polyline points="215.4,126.3 215.6,126.3 215.8,126.6 216,126.8 216.2,128.3 216.4,127.6 216.6,129 216.8,129.4 217,130.1 217.2,130.6 217.4,131.1 217.6,131.4 217.8,131.8 218,132.8 218.2,132.3 218.4,133.1 218.6,134.3" fill="none" stroke="#0a0a0a" stroke-width="3.3" stroke-linejoin="bevel" stroke-linecap="round"/>
<polyline points="218.4,133.1 218.6,134.3 218.8,135 219,135.2 219.2,134.8 219.4,136.5 219.6,137.2 219.8,136.9 220,137.3 220.2,137.8 220.4,138.7 220.7,138.5 220.9,138.9 221.1,140.9 221.3,140.6 221.5,141.1 221.8,141.2" fill="none" stroke="#0a0a0a" stroke-width="3.5" stroke-linejoin="bevel" stroke-linecap="round"/>
<polyline points="221.5,141.1 221.8,141.2 222,141.3 222.2,141.8 222.4,142.3 222.7,144 222.9,144.6 223.1,145.4 223.3,146 223.6,145 223.8,145.3 224,147 224.3,146.8 224.5,148.5 224.7,148.2 225,148.6 225.2,149.1" fill="none" stroke="#0a0a0a" stroke-width="3.8" stroke-linejoin="bevel" stroke-linecap="round"/>
<polyline points="225,148.6 225.2,149.1 225.4,149.3 225.7,150.3 225.9,150.1 226.2,152.2 226.4,152.3 226.7,152.9 226.9,153.6 227.2,153.6 227.5,154.5 227.7,154.7 228,154.6 228.3,154.1 228.5,155.6 228.8,156.2 229.1,157.1" fill="none" stroke="#0a0a0a" stroke-width="4.1" stroke-linejoin="bevel" stroke-linecap="round"/>
<polyline points="228.8,156.2 229.1,157.1 229.4,157.8 229.7,157.8 229.9,157 230.2,157.5 230.5,159.7 230.8,160.1 231.2,159.5 231.5,159.2 231.8,159.7 232.1,160.2 232.4,162.4 232.8,161.7 233.1,162.3 233.5,163.5 233.8,162.6" fill="none" stroke="#0a0a0a" stroke-width="4.5" stroke-linejoin="bevel" stroke-linecap="round"/>
<polyline points="233.5,163.5 233.8,162.6 234.2,163.7 234.6,164.2 234.9,164.3 235.3,164.1 235.7,165.2 236.1,164.9 236.5,165.8 236.9,166.3 237.3,166.3 237.7,168.5 238.1,168.2 238.5,169.1 238.9,169.5 239.3,168.4 239.7,168.5" fill="none" stroke="#0a0a0a" stroke-width="4.6" stroke-linejoin="bevel" stroke-linecap="round"/>
<polyline points="239.3,168.4 239.7,168.5 240.2,170.7 240.6,170 241,170.7 241.4,171.5 241.9,170.6 242.3,171.5 242.7,171.2 243.2,171.3 243.6,171.2 244,171.9 244.5,172.2 244.9,173.6 245.4,173.4 245.9,174.3" fill="none" stroke="#0a0a0a" stroke-width="4.6" stroke-linejoin="bevel" stroke-linecap="round"/>
<polyline points="245.4,173.4 245.9,174.3 246.3,173.5 246.8,173.6 247.3,174.7 247.8,174.3 248.3,175.6 248.8,175.1 249.2,175.1 249.7,176.4 250.2,175.4 250.7,176.9 251.3,176.4 251.8,176 252.3,177.4 252.8,177.6 253.3,176.7" fill="none" stroke="#0a0a0a" stroke-width="4.6" stroke-linejoin="bevel" stroke-linecap="round"/>
<polyline points="252.8,177.6 253.3,176.7 253.8,177.7 254.3,178 254.9,178.8 255.4,177.8 255.9,178.8 256.4,180 256.9,178 257.5,179.8 258,179.2 258.5,179.6 259,179.4 259.6,179.9 260.1,180.2 260.6,181.3 261.1,181.3" fill="none" stroke="#0a0a0a" stroke-width="4.6" stroke-linejoin="bevel" stroke-linecap="round"/>
<polyline points="260.6,181.3 261.1,181.3 261.6,181.6 262.2,181.8 262.7,180.7 263.2,181.7 263.7,182 264.3,180.5 264.8,181.9 265.3,181.7 265.9,181 266.4,182.1 266.9,182.3 267.5,182.4 268,181.1 268.6,183.2 269.1,182.1" fill="none" stroke="#0a0a0a" stroke-width="4.6" stroke-linejoin="bevel" stroke-linecap="round"/>
<polyline points="268.6,183.2 269.1,182.1 269.6,183.2 270.2,181.8 270.7,182.9 271.3,181.8 271.8,183 272.4,183.3 272.9,182.8 273.5,183.7 274,183.2 274.6,182.4 275.1,182.4 275.7,182.6 276.2,183.3 276.8,184.7 277.3,183.4" fill="none" stroke="#0a0a0a" stroke-width="4.6" stroke-linejoin="bevel" stroke-linecap="round"/>
<polyline points="276.8,184.7 277.3,183.4 277.9,184.6 278.4,184.3 279,184.5 279.5,184.5 280.1,183.5 280.6,185.1 281.2,184.2 281.7,185.4 282.3,183.4 282.8,183.7 283.4,183.8 283.9,185.2 284.5,183.9 285,184.7 285.6,185" fill="none" stroke="#0a0a0a" stroke-width="4.6" stroke-linejoin="bevel" stroke-linecap="round"/>
<polyline points="285,184.7 285.6,185 286.1,185 286.7,184.6 287.2,186 287.7,185.1 288.3,184.5 288.8,185.5 289.4,184.5 289.9,185.8 290.5,184.8 291,186.4 291.6,184.7 292.1,185.3 292.7,185.1 293.2,186 293.8,185.7" fill="none" stroke="#0a0a0a" stroke-width="4.6" stroke-linejoin="bevel" stroke-linecap="round"/>
<polyline points="293.2,186 293.8,185.7 294.3,185.8 294.9,185.9 295.4,186.3 296,185.5 296.5,185.7 297.1,185.6 297.6,185.4 298.2,186.5 298.7,187.3 299.3,187.2 299.8,187.4 300.4,185.6 300.9,186.9 301.5,185.6" fill="none" stroke="#0a0a0a" stroke-width="4.6" stroke-linejoin="bevel" stroke-linecap="round"/>
<polyline points="218,132.4 218.4,133.4 218.8,134.4 219.2,135.5 219.6,136.5 220,137.5 220.4,138.4 220.9,139.8 221.3,140.6 221.8,141.6 222.2,142.5 222.7,143.7 223.1,144.1 223.6,145.8 224,146.4 224.5,147.5 225,148.4 225.4,149.8 225.9,151.7 226.4,151.1 226.9,151.7 227.5,153.7 228,153.3 228.5,155.1 229.1,156.5 229.7,155.9 230.2,158.9 230.8,158.8 231.5,160.5 232.1,159.2 232.8,164.1 233.5,161.2 234.2,163.6 234.9,163.7 235.7,164.7 236.5,164.3 237.3,166.8 238.1,165.6 238.9,168.4 239.7,169.4 240.6,169.4 241.4,171.1 242.3,170.5 243.2,172.3 244,174.1 244.9,173.7 245.9,171.1 246.8,172 247.8,172.4 248.8,173.4 249.7,175.9 250.7,177.2 251.8,176.6 252.8,178.9 253.8,176.6 254.9,180.7 255.9,178.1 256.9,178.6 258,177.9 259,179.2 260.1,178 261.1,182.7 262.2,181.2 263.2,179.2 264.3,181.8 265.3,181.5 266.4,179.6 267.5,184.6 268.6,180.9 269.6,182.9 270.7,182 271.8,182.8 272.9,184 274,184.7 275.1,182.1 276.2,184 277.3,183.7 278.4,183.5 279.5,184.2 280.6,182.9 281.7,186.1 282.8,184.2 283.9,184 285,186.7 286.1,184.4 287.2,186.2 288.3,187.2 289.4,185.8 290.5,186.3 291.6,184.4 292.7,185.1 293.8,186.1 294.9,185.3 296,187 297.1,187 298.2,187.2 299.3,186.8 300.4,186.5 301.5,184.9" fill="none" stroke="#0a0a0a" stroke-width="1" stroke-linejoin="miter" stroke-linecap="butt"/>
<text x="254.6" y="105.3" font-size="14.5" font-weight="bold" text-anchor="start" class="b">Akt3<tspan dy="-5.6">-/-</tspan></text>
<text x="270.8" y="170.2" font-size="14.5" font-weight="bold" text-anchor="start" class="b">WT</text>
<text x="187.3" y="178.2" font-size="14.5" font-weight="bold" text-anchor="start" class="b">Akt3<tspan dy="-5.6">-/-</tspan></text>
<text x="187.2" y="192.8" font-size="14.5" font-weight="bold" text-anchor="start" class="b">+ SB216763</text>
<text x="122" y="228.2" font-size="14.5" font-weight="bold" text-anchor="start" class="b">WT + SB216763</text>
<text x="335.3" y="24.7" font-size="20" font-weight="bold" text-anchor="start" class="b">B</text>
<line x1="399.7" y1="5.4" x2="399.7" y2="14.2" stroke="#0a0a0a" stroke-width="1.5" stroke-linecap="butt"/>
<polygon points="395,12.2 404.4,12.2 399.7,25" fill="#0a0a0a"/>
<text x="414.5" y="19" font-size="14.7" font-weight="normal" text-anchor="start">Thrombin</text>
<text x="414.3" y="33.7" font-size="14.7" font-weight="normal" text-anchor="start">0.016 U/mL</text>
<text x="371.6" y="56.7" font-size="14.5" font-weight="bold" text-anchor="start" class="b">0%</text>
<text x="361" y="196" font-size="14.5" font-weight="bold" text-anchor="start" class="b">50%</text>
<line x1="375.8" y1="62.5" x2="375.8" y2="170.7" stroke="#0a0a0a" stroke-width="1.3" stroke-linecap="butt"/>
<polygon points="371,168.7 380.6,168.7 375.8,182" fill="#0a0a0a"/>
<text class="b" transform="translate(344.7 115.3) rotate(-90)" font-size="14.8" font-weight="bold" text-anchor="middle">Light</text>
<text class="b" transform="translate(359.5 115.8) rotate(-90)" font-size="14.8" font-weight="bold" text-anchor="middle">Transmittance</text>
<line x1="394" y1="163.7" x2="420" y2="163.7" stroke="#0a0a0a" stroke-width="1.3" stroke-linecap="butt"/>
<line x1="394" y1="158.7" x2="394" y2="168.7" stroke="#0a0a0a" stroke-width="1.3" stroke-linecap="butt"/>
<line x1="420" y1="158.7" x2="420" y2="168.7" stroke="#0a0a0a" stroke-width="1.3" stroke-linecap="butt"/>
<text x="390.6" y="183" font-size="12" font-weight="bold" text-anchor="start" class="b">1 min</text>
<line x1="400.3" y1="32.3" x2="400.3" y2="55" stroke="#7e7e7e" stroke-width="1.5" stroke-linecap="butt"/>
<polyline points="397,58 397.7,58 398.4,58 399,57.9 399.7,57.9 400.3,57.9 400.8,57.9 401.3,57.8 401.7,57.5 402,57.5 402.2,57.4 402.4,57.1 402.6,56.8 402.8,56.5 402.9,55.9 403,55.4 403.2,54.5 403.3,53.9 403.4,53.4 403.5,52.7" fill="none" stroke="#7e7e7e" stroke-width="2.4" stroke-linejoin="bevel" stroke-linecap="round"/>
<polyline points="403.4,53.4 403.5,52.7 403.6,51.9 403.8,51.2 403.9,50.6 404.1,50.1 404.3,49.5 404.5,49.1 404.7,48.5 405.1,48.1 405.5,47.4 405.9,47.2 406.3,46.6 406.8,46.1 407.2,46.2 407.6,45.9 407.9,46.1 408.3,46.3 408.7,46.8 409,47.4" fill="none" stroke="#7e7e7e" stroke-width="2.4" stroke-linejoin="bevel" stroke-linecap="round"/>
<polyline points="408.7,46.8 409,47.4 409.3,48 409.6,48.6 409.9,49.1 410.1,49.7 410.2,50 410.4,50.7 410.5,51.2 410.7,51.8 410.8,52.3 411,52.6 411.1,53.3 411.2,53.9 411.3,54.5 411.4,54.8 411.5,55.3 411.6,56 411.7,56.6 411.8,57.1 411.9,57.7" fill="none" stroke="#7e7e7e" stroke-width="2.4" stroke-linejoin="bevel" stroke-linecap="round"/>
<polyline points="411.8,57.1 411.9,57.7 412,58.2 412,58.9 412.1,59.3 412.2,60.1 412.3,60.6 412.4,61 412.4,61.7 412.5,62 412.6,62.7 412.7,63.1 412.8,63.8 412.8,64.3 412.9,65 413,65.5 413,65.9 413.1,66.5 413.2,67.2 413.2,67.5" fill="none" stroke="#7e7e7e" stroke-width="2.4" stroke-linejoin="bevel" stroke-linecap="round"/>
<polyline points="413.2,67.2 413.2,67.5 413.3,68.2 413.4,68.8 413.4,69.3 413.5,69.7 413.5,70.3 413.6,70.8 413.7,71.6 413.7,72.1 413.8,72.7 413.8,73.1 413.9,73.5 413.9,74.3 414,74.7 414,75.2 414.1,75.7 414.2,76.4 414.2,77 414.3,77.7 414.3,78.1" fill="none" stroke="#7e7e7e" stroke-width="2.4" stroke-linejoin="bevel" stroke-linecap="round"/>
<polyline points="414.3,77.7 414.3,78.1 414.4,78.5 414.4,79.3 414.5,79.6 414.5,80.2 414.6,80.8 414.6,81.5 414.7,81.9 414.7,82.6 414.8,83.1 414.9,83.6 414.9,84.2 415,84.6 415,85.2 415.1,85.9 415.1,86.4 415.2,86.8 415.2,87.5 415.3,88.1" fill="none" stroke="#7e7e7e" stroke-width="2.4" stroke-linejoin="bevel" stroke-linecap="round"/>
<polyline points="415.2,87.5 415.3,88.1 415.4,88.6 415.4,89.1 415.5,89.7 415.5,90.1 415.6,90.7 415.6,91.4 415.7,92 415.7,92.2 415.8,92.9 415.8,93.4 415.9,94 416,94.5 416,95.1 416.1,95.7 416.1,96.1 416.2,96.8 416.2,97.2 416.3,98 416.3,98.3" fill="none" stroke="#7e7e7e" stroke-width="2.4" stroke-linejoin="bevel" stroke-linecap="round"/>
<polyline points="416.3,98 416.3,98.3 416.4,99.1 416.4,99.6 416.5,100.2 416.5,100.6 416.6,101.1 416.7,101.8 416.7,102.2 416.8,102.8 416.8,103.4 416.9,103.8 416.9,104.6 417,105 417,105.6 417.1,106.2 417.1,106.8 417.2,107.1 417.3,107.7 417.3,108.2" fill="none" stroke="#7e7e7e" stroke-width="2.4" stroke-linejoin="bevel" stroke-linecap="round"/>
<polyline points="417.3,107.7 417.3,108.2 417.4,109 417.4,109.4 417.5,110 417.6,110.4 417.6,111.2 417.7,111.5 417.7,112.2 417.8,112.6 417.8,113.4 417.9,113.8 418,114.4 418,114.9 418.1,115.4 418.1,116 418.2,116.4 418.2,117.2 418.3,117.6 418.4,118.1 418.4,118.7" fill="none" stroke="#7e7e7e" stroke-width="2.4" stroke-linejoin="bevel" stroke-linecap="round"/>
<polyline points="418.4,118.1 418.4,118.7 418.5,119.3 418.5,119.7 418.6,120.3 418.7,121.1 418.7,121.5 418.8,122.4 418.8,122.8 418.9,123.4 418.9,123.4 419,124.3 419.1,124.6 419.1,125.1 419.2,125.7 419.3,126.5 419.3,126.9 419.4,127.4 419.4,128 419.5,129.2" fill="none" stroke="#7e7e7e" stroke-width="2.5" stroke-linejoin="bevel" stroke-linecap="round"/>
<polyline points="419.4,128 419.5,129.2 419.6,129.1 419.6,130.2 419.7,130.9 419.8,131 419.8,132 419.9,132.6 420,132.9 420,133.3 420.1,133.2 420.2,133.7 420.3,134 420.3,134.8 420.4,135.8 420.5,136.2 420.5,137.3 420.6,137.1 420.7,138.2 420.8,138.3 420.9,138.6" fill="none" stroke="#7e7e7e" stroke-width="2.7" stroke-linejoin="bevel" stroke-linecap="round"/>
<polyline points="420.8,138.3 420.9,138.6 420.9,140.1 421,139.8 421.1,140.7 421.2,140.8 421.3,142 421.4,141.7 421.5,142 421.6,143.7 421.6,143.9 421.7,144.8 421.8,144.2 421.9,146.2 422,145.2 422.1,147.6 422.2,148.2 422.4,148.4 422.5,147.9 422.6,149.2" fill="none" stroke="#7e7e7e" stroke-width="2.9" stroke-linejoin="bevel" stroke-linecap="round"/>
<polyline points="422.5,147.9 422.6,149.2 422.7,150.5 422.8,150.4 422.9,150.8 423,149.9 423.1,150.4 423.2,152.4 423.4,152.5 423.5,153.1 423.6,152.9 423.7,153.7 423.8,155.8 423.9,155 424.1,157.1 424.2,155.5 424.3,157 424.4,157.9 424.6,158.5 424.7,159.4" fill="none" stroke="#7e7e7e" stroke-width="3.2" stroke-linejoin="bevel" stroke-linecap="round"/>
<polyline points="424.6,158.5 424.7,159.4 424.8,159.8 424.9,160.6 425,158.9 425.2,159.5 425.3,160.1 425.4,160.9 425.5,163 425.7,163 425.8,164.1 425.9,164.3 426,164.7 426.1,164 426.3,166.8 426.4,167 426.5,167.5 426.7,168.7 426.8,167.4 426.9,168 427,168.7" fill="none" stroke="#7e7e7e" stroke-width="3.4" stroke-linejoin="bevel" stroke-linecap="round"/>
<polyline points="426.9,168 427,168.7 427.2,168.8 427.3,169.9 427.4,170.9 427.6,171.3 427.7,170.3 427.9,172.9 428,171 428.2,172 428.3,173.2 428.5,175.4 428.6,173.7 428.8,176.5 428.9,176.1 429.1,177.1 429.3,176 429.4,179.2 429.6,178.4 429.8,176.7" fill="none" stroke="#7e7e7e" stroke-width="3.9" stroke-linejoin="bevel" stroke-linecap="round"/>
<polyline points="429.6,178.4 429.8,176.7 430,180.1 430.1,179.3 430.3,181.3 430.5,181.2 430.8,182.9 431,183.1 431.2,182.6 431.5,183.5 431.7,181 431.9,184.7 432.2,184.9 432.5,186.3 432.7,186 433,185.9 433.2,187.1 433.5,186.8 433.7,186.8 433.9,189.5 434.2,187.8" fill="none" stroke="#7e7e7e" stroke-width="5" stroke-linejoin="bevel" stroke-linecap="round"/>
<polyline points="433.9,189.5 434.2,187.8 434.4,186.6 434.6,186.9 434.8,188.9 435,189.8 435.2,190.8 435.5,189.1 435.7,191.8 435.9,194.1 436.1,193.7 436.4,194 436.6,193.6 436.9,195.7 437.1,192.7 437.4,196.1 437.7,196.3 438.1,195.2 438.4,196.1 438.8,195.1" fill="none" stroke="#7e7e7e" stroke-width="5.4" stroke-linejoin="bevel" stroke-linecap="round"/>
<polyline points="438.4,196.1 438.8,195.1 439.3,194.9 439.7,196.8 440.1,197.3 440.6,198.5 441.1,198.1 441.5,200.8 442,197.8 442.5,201.1 443,200 443.5,198.7 444,201.7 444.4,200.2 444.9,198.2 445.4,201.5 445.9,198.8 446.4,200 446.9,200.3 447.5,200.4 448,200.1" fill="none" stroke="#7e7e7e" stroke-width="6.2" stroke-linejoin="bevel" stroke-linecap="round"/>
<polyline points="447.5,200.4 448,200.1 448.5,200.4 449.1,199.9 449.6,197.2 450.1,198.6 450.7,198.1 451.2,196.2 451.8,197.3 452.3,198.6 452.9,197 453.4,196.5 453.9,196.7 454.5,196.9 455,197.7 455.5,197.9 456.1,195.3 456.6,195 457.1,195.1 457.7,197.4" fill="none" stroke="#7e7e7e" stroke-width="6.2" stroke-linejoin="bevel" stroke-linecap="round"/>
<polyline points="457.1,195.1 457.7,197.4 458.2,197.4 458.7,194.8 459.3,196.8 459.8,195.4 460.3,197.1 460.9,195.3 461.4,196.6 462,195 462.5,193.9 463,196 463.6,193.6 464.1,195.5 464.7,194.2 465.2,193.2 465.7,193.7 466.3,195.5 466.8,192.7 467.4,191.7 467.9,195.2" fill="none" stroke="#7e7e7e" stroke-width="6.2" stroke-linejoin="bevel" stroke-linecap="round"/>
<polyline points="467.4,191.7 467.9,195.2 468.4,191.6 469,192 469.5,193 470.1,194.2 470.6,194.9 471.1,191.4 471.7,191.5 472.2,194.7 472.8,192.7 473.3,194 473.9,191.7 474.4,191.3 475,193.7 475.5,190.7 476,190.9 476.6,191.3 477.1,191.1 477.7,190.2" fill="none" stroke="#7e7e7e" stroke-width="6.2" stroke-linejoin="bevel" stroke-linecap="round"/>
<polyline points="477.1,191.1 477.7,190.2 478.2,190.7 478.8,190.1 479.3,191.6 479.9,192.3 480.4,191.4 481,189.4 481.5,191.6 482.1,192.1 482.6,189.7 483.2,190.9 483.7,193 484.3,192.3 484.8,190.6 485.4,189.7 485.9,189.1 486.5,188.6 487,189.3 487.6,190.3 488.1,190.3" fill="none" stroke="#7e7e7e" stroke-width="6.2" stroke-linejoin="bevel" stroke-linecap="round"/>
<polyline points="487.6,190.3 488.1,190.3 488.6,188.8 489.2,189.9 489.7,189.8 490.3,191.3 490.8,191.7 491.4,191.8 491.9,189.6 492.4,191.1 493,190 493.5,187.6 494.1,187.3 494.6,189.6 495.1,189.8 495.7,189.6 496.2,188.7 496.8,189.1 497.3,189.3 497.8,189.3" fill="none" stroke="#7e7e7e" stroke-width="6.2" stroke-linejoin="bevel" stroke-linecap="round"/>
<polyline points="497.3,189.3 497.8,189.3 498.4,186.7 498.9,188.1 499.5,187.3 500,187.8 500.5,187.3 501.1,185.8 501.6,188.8 502.1,187.5 502.7,188.9 503.2,185.1 503.8,185.2 504.3,185.2 504.8,188.3 505.4,186.6 505.9,187.5 506.4,184.4 507,187.2 507.5,184.1" fill="none" stroke="#7e7e7e" stroke-width="6.2" stroke-linejoin="bevel" stroke-linecap="round"/>
<polyline points="422.6,148.8 422.8,149.9 423,151.1 423.2,152.1 423.5,153.2 423.7,154.1 423.9,155.4 424.2,156.5 424.4,157.6 424.7,158.8 424.9,160.1 425.2,160.8 425.4,162 425.7,162.9 425.9,163.9 426.1,165.2 426.4,166.7 426.7,167.7 426.9,167.4 427.2,168.8 427.4,170.5 427.7,171.7 428,173 428.3,174.2 428.6,176 428.9,175.9 429.3,177.7 429.6,178.4 430,177.2 430.3,178.9 430.8,179.9 431.2,182.7 431.7,184 432.2,180.2 432.7,182 433.2,183.5 433.7,187.6 434.2,186.9 434.6,186.8 435,189.7 435.5,189.4 435.9,190.3 436.4,193.3 436.9,195.6 437.4,194 438.1,195.9 438.8,194.9 439.7,202.6 440.6,194.1 441.5,199.7 442.5,205 443.5,199.3 444.4,199.2 445.4,202.4 446.4,199.5 447.5,196.8 448.5,199.2 449.6,202.1 450.7,199.9 451.8,194.8 452.9,199 453.9,201.5 455,195.4 456.1,197.9 457.1,195.9 458.2,197.4 459.3,191.5 460.3,194.1 461.4,194.3 462.5,195.9 463.6,193.1 464.7,192.3 465.7,194.8 466.8,189.7 467.9,192.7 469,193.4 470.1,192.4 471.1,193.8 472.2,193.6 473.3,188.5 474.4,190.8 475.5,195.1 476.6,191.5 477.7,190.4 478.8,187 479.9,191.1 481,195 482.1,190 483.2,196.4 484.3,189.1 485.4,191.7 486.5,192.7 487.6,190.7 488.6,187.6 489.7,188.1 490.8,190.1 491.9,191.1 493,188.6 494.1,188.6 495.1,188.6 496.2,190.7 497.3,186 498.4,187.1 499.5,189.5 500.5,186.4 501.6,191.2 502.7,188.6 503.8,191.9 504.8,184.7 505.9,187.8 507,181.7" fill="none" stroke="#7e7e7e" stroke-width="1.2" stroke-linejoin="miter" stroke-linecap="butt"/>
<line x1="397" y1="32.3" x2="397" y2="57.5" stroke="#0a0a0a" stroke-width="2.4" stroke-linecap="butt"/>
<polyline points="392.6,58.4 393.6,56.5 394.5,57.2 395.5,57.4 396.5,58.6 397.4,58.7 398.4,56.5" fill="none" stroke="#0a0a0a" stroke-width="3.6" stroke-linejoin="round" stroke-linecap="round"/>
<polyline points="398,57.9 398.2,57.4 398.3,56.8 398.5,56.6 398.7,55.9 398.9,55.3 399.1,54.9 399.3,54.4 399.6,54 399.8,53.5 400.1,52.8 400.3,52.5 400.6,52.1 400.8,51.4 401.1,50.8 401.4,50.1 401.7,49.6" fill="none" stroke="#0a0a0a" stroke-width="2.4" stroke-linejoin="bevel" stroke-linecap="round"/>
<polyline points="401.4,50.1 401.7,49.6 402.1,49.1 402.4,48.8 402.7,49 403.1,49.2 403.5,49.7 403.9,50.2 404.2,50.8 404.6,51.4 404.9,51.8 405.2,52.3 405.4,52.8 405.7,53.3 405.9,53.9 406.2,54.1 406.4,54.9" fill="none" stroke="#0a0a0a" stroke-width="2.4" stroke-linejoin="bevel" stroke-linecap="round"/>
<polyline points="406.2,54.1 406.4,54.9 406.6,55.2 406.8,55.6 407,56.4 407.2,56.7 407.3,57.5 407.5,57.9 407.6,58.4 407.7,59.1 407.9,59.6 408,59.8 408.1,60.7 408.2,61 408.3,61.7 408.4,62.3 408.5,62.8" fill="none" stroke="#0a0a0a" stroke-width="2.4" stroke-linejoin="bevel" stroke-linecap="round"/>
<polyline points="408.4,62.3 408.5,62.8 408.6,63.2 408.7,64 408.8,64.4 408.9,64.7 409,65.6 409.1,66 409.2,66.4 409.2,67 409.3,67.4 409.4,68.2 409.5,68.7 409.5,69.1 409.6,69.7 409.7,70.2 409.8,71.1" fill="none" stroke="#0a0a0a" stroke-width="2.4" stroke-linejoin="bevel" stroke-linecap="round"/>
<polyline points="409.7,70.2 409.8,71.1 409.8,71.3 409.9,72.1 410,72.6 410,73.2 410.1,73.6 410.2,74.1 410.3,74.5 410.3,75.1 410.4,76.1 410.5,76.3 410.6,77 410.6,77.4 410.7,77.8 410.8,78.6 410.9,79.5" fill="none" stroke="#0a0a0a" stroke-width="2.4" stroke-linejoin="bevel" stroke-linecap="round"/>
<polyline points="410.8,78.6 410.9,79.5 411,79.6 411,80.1 411.1,80.8 411.2,81.2 411.3,81.7 411.4,82.3 411.5,83.3 411.5,83.3 411.6,83.8 411.7,84.8 411.8,84.9 411.9,85.4 412,86 412,87.1 412.1,87.7" fill="none" stroke="#0a0a0a" stroke-width="2.5" stroke-linejoin="bevel" stroke-linecap="round"/>
<polyline points="412,87.1 412.1,87.7 412.2,88.2 412.3,88.3 412.4,89.3 412.4,89.2 412.5,90.1 412.6,90.7 412.7,91.1 412.8,92.1 412.8,92.5 412.9,92.8 413,93.6 413.1,94.1 413.2,94.1 413.3,94.8 413.3,95.4" fill="none" stroke="#0a0a0a" stroke-width="2.5" stroke-linejoin="bevel" stroke-linecap="round"/>
<polyline points="413.3,94.8 413.3,95.4 413.4,96.5 413.5,97 413.6,97 413.7,98.2 413.7,97.8 413.8,98.6 413.9,99.1 414,99.9 414.1,100.8 414.2,101.3 414.3,101.1 414.3,101.8 414.4,102.9 414.5,102.9 414.6,104" fill="none" stroke="#0a0a0a" stroke-width="2.5" stroke-linejoin="bevel" stroke-linecap="round"/>
<polyline points="414.5,102.9 414.6,104 414.7,104.4 414.8,105 414.9,105.6 415,106 415.1,106.1 415.2,107.3 415.3,107.6 415.3,108.3 415.4,108.1 415.5,108.8 415.6,109.8 415.7,110.6 415.8,110.6 415.9,111.6 416,111.3" fill="none" stroke="#0a0a0a" stroke-width="2.6" stroke-linejoin="bevel" stroke-linecap="round"/>
<polyline points="415.9,111.6 416,111.3 416.1,111.9 416.2,113.2 416.2,114.1 416.3,113.9 416.4,114.4 416.5,115 416.6,115.8 416.7,116.1 416.8,116.6 416.9,117.7 417,117.3 417.1,118.9 417.2,119.3 417.3,120.1 417.4,120.5" fill="none" stroke="#0a0a0a" stroke-width="2.6" stroke-linejoin="bevel" stroke-linecap="round"/>
<polyline points="417.3,120.1 417.4,120.5 417.5,121 417.6,120.9 417.7,122.1 417.9,122.4 418,122.6 418.1,123.7 418.2,123.8 418.3,125 418.5,125.2 418.6,126 418.7,126.5 418.9,126.6 419,127.6 419.1,127.7 419.3,128.1" fill="none" stroke="#0a0a0a" stroke-width="2.7" stroke-linejoin="bevel" stroke-linecap="round"/>
<polyline points="419.1,127.7 419.3,128.1 419.4,129.4 419.6,129.5 419.8,130.1 419.9,131.1 420.1,131.1 420.3,130.7 420.5,132.3 420.7,132.8 420.9,133.4 421.1,134.3 421.3,134.5 421.6,135.3 421.8,135.5 422.1,136.2 422.4,135.7" fill="none" stroke="#0a0a0a" stroke-width="2.9" stroke-linejoin="bevel" stroke-linecap="round"/>
<polyline points="422.1,136.2 422.4,135.7 422.7,135.8 423,136.7 423.4,137.6 423.9,137.9 424.4,138 424.9,137.9 425.4,138 426,137.9 426.5,138.7 427,139 427.5,139.8 428,139.1 428.4,138.9 428.9,138.5 429.4,137.5" fill="none" stroke="#0a0a0a" stroke-width="3.3" stroke-linejoin="bevel" stroke-linecap="round"/>
<polyline points="428.9,138.5 429.4,137.5 429.9,137.6 430.3,137.8 430.8,137.5 431.2,137.5 431.7,136.3 432.1,136.2 432.5,136 432.8,135.6 433.2,134.2 433.5,135 433.8,134.3 434.2,133.8 434.5,132.5 434.8,133.3 435,132.4" fill="none" stroke="#0a0a0a" stroke-width="3.3" stroke-linejoin="bevel" stroke-linecap="round"/>
<polyline points="434.8,133.3 435,132.4 435.3,131.1 435.6,131.2 435.9,130 436.2,129.4 436.4,129.9 436.7,129.5 437,128.6 437.2,127.5 437.5,127.3 437.8,126.5 438.1,126.2 438.4,125.5 438.7,126 439,125.7 439.3,124.8" fill="none" stroke="#0a0a0a" stroke-width="3.2" stroke-linejoin="bevel" stroke-linecap="round"/>
<polyline points="439,125.7 439.3,124.8 439.7,124.6 440,123.4 440.4,124.2 440.7,123.4 441.1,122.2 441.5,122.5 441.9,122 442.3,122.3 442.7,121.7 443.1,120.3 443.6,120.8 444,119.5 444.4,119.9 444.9,120.1 445.3,118.7" fill="none" stroke="#0a0a0a" stroke-width="3.3" stroke-linejoin="bevel" stroke-linecap="round"/>
<polyline points="444.9,120.1 445.3,118.7 445.8,119.1 446.2,118.4 446.7,117.6 447.1,118.5 447.6,117.9 448.1,116.9 448.5,116.4 449,116.4 449.5,116.7 449.9,116.7 450.4,115.8 450.8,114.7 451.3,114.4 451.8,114.5 452.3,115.1" fill="none" stroke="#0a0a0a" stroke-width="3.3" stroke-linejoin="bevel" stroke-linecap="round"/>
<polyline points="451.8,114.5 452.3,115.1 452.7,113.9 453.2,114.3 453.7,113.1 454.2,113.3 454.7,113.6 455.2,113.4 455.7,112.1 456.2,112.1 456.7,111.9 457.2,111.7 457.7,111.7 458.2,112.1 458.7,110.8 459.2,110.8 459.7,111" fill="none" stroke="#0a0a0a" stroke-width="3.3" stroke-linejoin="bevel" stroke-linecap="round"/>
<polyline points="459.2,110.8 459.7,111 460.3,111.2 460.8,111 461.3,109.7 461.8,110.2 462.3,110.2 462.8,109.7 463.4,110.1 463.9,108.8 464.4,109.3 464.9,109.4 465.4,109.6 465.9,107.9 466.5,108.9 467,108.1 467.5,108.6" fill="none" stroke="#0a0a0a" stroke-width="3.3" stroke-linejoin="bevel" stroke-linecap="round"/>
<polyline points="467,108.1 467.5,108.6 468,108.1 468.6,108.4 469.1,107.3 469.6,108.3 470.2,107.3 470.7,107.9 471.2,106.9 471.8,106.5 472.3,106.8 472.9,107.2 473.4,107.4 473.9,106.6 474.5,106.2 475,107.1 475.6,106.7" fill="none" stroke="#0a0a0a" stroke-width="3.3" stroke-linejoin="bevel" stroke-linecap="round"/>
<polyline points="475,107.1 475.6,106.7 476.1,106.1 476.6,106.3 477.2,105.5 477.7,105.8 478.3,105.5 478.8,105.1 479.4,104.8 479.9,104.9 480.4,105.7 481,105.5 481.5,104.8 482,105.4 482.6,104.1 483.1,104.9 483.6,104.8" fill="none" stroke="#0a0a0a" stroke-width="3.3" stroke-linejoin="bevel" stroke-linecap="round"/>
<polyline points="483.1,104.9 483.6,104.8 484.2,103.5 484.7,104.7 485.2,104.4 485.8,103.7 486.3,103.6 486.8,103.6 487.4,103.3 487.9,102.4 488.4,102.9 488.9,103.4 489.5,102.7 490,102.1 490.5,103 491,102 491.6,101.5" fill="none" stroke="#0a0a0a" stroke-width="3.3" stroke-linejoin="bevel" stroke-linecap="round"/>
<polyline points="491,102 491.6,101.5 492.1,102 492.6,101.1 493.1,101.7 493.7,101.6 494.2,100.6 494.7,100.6 495.2,100.9 495.8,100.1 496.3,100.9 496.8,100.6 497.3,99.5 497.8,100 498.4,99.7 498.9,99.2 499.4,99.5" fill="none" stroke="#0a0a0a" stroke-width="3.3" stroke-linejoin="bevel" stroke-linecap="round"/>
<polyline points="498.9,99.2 499.4,99.5 499.9,98.9 500.4,98.8 500.9,98.5 501.4,98.6 501.9,97.4 502.5,98.2 503,97.2 503.5,97.1 504,97.9 504.5,96.7 505,97.1 505.5,96.3 506,97.3 506.5,97 507,95.7" fill="none" stroke="#0a0a0a" stroke-width="3.3" stroke-linejoin="bevel" stroke-linecap="round"/>
<text x="424.3" y="91" font-size="14.5" font-weight="bold" text-anchor="start" class="b">WT + DMSO</text>
<text x="439" y="162.5" font-size="14.5" font-weight="bold" text-anchor="start" class="b">WT +</text>
<text x="439" y="177.7" font-size="14.5" font-weight="bold" text-anchor="start" class="b">SB216763</text>
<line x1="395.6" y1="204.6" x2="395.6" y2="314" stroke="#0a0a0a" stroke-width="3.5" stroke-linecap="butt"/>
<line x1="383" y1="224" x2="396" y2="224" stroke="#0a0a0a" stroke-width="1.3" stroke-linecap="butt"/>
<line x1="383" y1="268" x2="396" y2="268" stroke="#0a0a0a" stroke-width="1.3" stroke-linecap="butt"/>
<text x="381.5" y="229.2" font-size="14.5" font-weight="bold" text-anchor="end" class="b">0.5</text>
<text x="381.2" y="273" font-size="14.5" font-weight="bold" text-anchor="end" class="b">0</text>
<text class="b" transform="translate(344.3 258) rotate(-90)" font-size="14.8" font-weight="bold" text-anchor="middle">ATP</text>
<text class="b" transform="translate(358.7 256.4) rotate(-90)" font-size="14.8" font-weight="bold" text-anchor="middle">Secretion (µM)</text>
<circle cx="336" cy="222.5" r="0.8" fill="#0a0a0a"/>
<polyline points="397,249 397.4,249.4 397.9,249.8 398.3,250.2 398.7,250.6 399.1,251 399.6,251.4 400,251.8 400.4,252.2 400.8,252.6 401.2,253 401.6,253.4 402.1,253.9 402.5,254.3 402.9,254.7 403.3,255.1 403.7,255.5 404.1,255.9 404.5,256.4 404.9,256.8 405.3,257.2 405.7,257.6 406.1,258.1 406.5,258.5" fill="none" stroke="#7e7e7e" stroke-width="2.4" stroke-linejoin="bevel" stroke-linecap="round"/>
<polyline points="406.5,258.5 407.2,270 407.8,299.6 408.4,270 409,262" fill="none" stroke="#7e7e7e" stroke-width="2.5" stroke-linejoin="round"/>
<polyline points="409,262.4 409.6,262.4 410.1,262.4 410.7,262.4 411.2,262.4 411.8,262.4 412.3,262.4 412.9,262.4 413.4,262.4 414,262.4 414.5,262.4 415.1,262.4 415.6,262.4 416.2,262.4 416.7,264 417.2,264 417.8,264 418.3,264 418.8,264 419.3,264 419.8,264 420.3,264 420.8,264 421.3,264 421.8,264 422.3,264 422.7,262.4 423.2,262.4 423.7,262.4 424.1,262.4 424.6,262.4 425,260.8 425.5,260.8 425.9,260.8 426.3,259.2 426.7,259.2 427.1,259.2 427.5,259.2 427.9,257.6 428.2,257.6 428.6,257.6 428.9,257.6 429.3,256 429.6,256 429.9,256 430.2,256 430.5,254.4 430.8,254.4 431.1,254.4 431.4,252.8 431.7,252.8 432,252.8 432.3,252.8 432.6,251.2 432.8,251.2 433.1,251.2 433.4,249.6 433.6,249.6 433.9,249.6 434.2,248 434.5,248 434.7,248 435,246.4 435.3,246.4 435.6,246.4 435.8,246.4 436.1,244.8 436.4,244.8 436.7,244.8 437,243.2 437.3,243.2 437.6,243.2 437.9,241.6 438.3,241.6 438.6,241.6 438.9,241.6 439.3,240 439.6,240 440,240 440.3,240 440.7,238.4 441.1,238.4 441.4,238.4 441.8,238.4 442.2,236.8 442.5,236.8 442.9,236.8 443.3,235.2 443.7,235.2 444.1,235.2 444.5,235.2 444.9,233.6 445.3,233.6 445.7,233.6 446.1,233.6 446.5,232 446.9,232 447.4,232 447.8,232 448.2,232 448.7,230.4 449.1,230.4 449.6,230.4 450,230.4 450.5,230.4 450.9,230.4 451.4,228.8 451.9,228.8 452.4,228.8 452.9,228.8 453.4,228.8 453.9,228.8 454.5,228.8 455,227.2 455.6,227.2 456.1,227.2 456.7,227.2 457.2,227.2 457.8,227.2 458.3,227.2 458.9,227.2 459.4,227.2 459.9,227.2 460.5,227.2 461,227.2 461.5,227.2 462.1,227.2 462.6,227.2 463.1,227.2 463.7,227.2 464.2,227.2 464.7,227.2 465.3,227.2 465.8,228.8 466.3,228.8 466.9,228.8 467.4,228.8 467.9,228.8 468.5,228.8 469,228.8 469.5,228.8 470,230.4 470.6,230.4 471.1,230.4 471.6,230.4 472.1,230.4 472.6,230.4 473.1,230.4 473.6,232 474.1,232 474.6,232 475.1,232 475.6,232 476.1,232 476.6,232 477.1,233.6 477.5,233.6 478,233.6 478.5,233.6 479,233.6 479.4,233.6 479.9,235.2 480.4,235.2 480.9,235.2 481.3,235.2 481.8,235.2 482.3,236.8 482.7,236.8 483.2,236.8 483.6,236.8 484.1,236.8 484.6,238.4 485,238.4 485.5,238.4 486,238.4 486.4,238.4 486.9,240 487.3,240 487.8,240 488.3,240 488.7,240 489.2,240 489.7,241.6 490.2,241.6 490.6,241.6 491.1,241.6 491.6,241.6 492.1,243.2 492.5,243.2 493,243.2 493.5,243.2 494,243.2 494.5,243.2 495,244.8 495.5,244.8 496,244.8 496.4,244.8 496.9,244.8 497.4,244.8 497.9,244.8 498.4,246.4 498.9,246.4 499.4,246.4 499.9,246.4 500.4,246.4 500.9,246.4 501.4,248 501.9,248 502.4,248 502.9,248 503.4,248 503.9,248 504.4,248 504.9,249.6 505.4,249.6 505.9,249.6 506.4,249.6 506.9,249.6 507.4,249.6 507.9,249.6 508.4,251.2 508.9,251.2 509.4,251.2 509.9,251.2 510.4,251.2 510.9,251.2 511.5,251.2 512,252.8 512.5,252.8 513,252.8 513.5,252.8" fill="none" stroke="#7e7e7e" stroke-width="2.5" stroke-linejoin="bevel" stroke-linecap="round"/>
<polyline points="397,255.5 397.3,256 397.7,256.5 398,257 398.4,257.5 398.7,258 399.1,258.4 399.5,258.9 399.9,259.4 400.3,259.8 400.7,260.2 401.1,260.7 401.6,261.1 402,261.5" fill="none" stroke="#0a0a0a" stroke-width="2.5" stroke-linejoin="bevel" stroke-linecap="round"/>
<polyline points="402,262 402.6,285 403.1,308.5 403.8,285 404.6,262" fill="none" stroke="#0a0a0a" stroke-width="2.7" stroke-linejoin="round"/>
<polyline points="404.6,262.6 405.2,261.3 405.7,261.3 406.1,261.3 406.5,261.3 406.8,262.6 407.1,262.6 407.4,262.6 407.7,263.9 407.9,263.9 408.2,265.2 408.5,265.2 408.8,265.2 409.2,266.5 409.6,266.5 410.1,266.5 410.5,267.8 411,267.8 411.5,267.8 412,267.8 412.5,269.1 413,269.1 413.5,269.1 414,269.1 414.5,269.1 415.1,269.1 415.6,269.1 416.1,269.1 416.7,269.1 417.2,269.1 417.8,269.1 418.3,269.1 418.9,269.1 419.4,269.1 420,269.1 420.6,269.1 421.1,269.1 421.7,269.1 422.3,269.1 422.9,269.1 423.4,269.1 424,269.1 424.6,269.1 425.2,269.1 425.7,269.1 426.3,269.1 426.9,269.1 427.4,269.1 428,269.1 428.6,269.1 429.1,269.1 429.6,269.1 430.2,269.1 430.7,269.1 431.2,269.1 431.8,269.1 432.3,269.1 432.8,269.1 433.2,267.8 433.7,267.8 434.2,267.8 434.7,267.8 435.2,266.5 435.7,266.5 436.3,266.5 436.8,266.5 437.3,266.5 437.8,266.5 438.4,266.5 438.9,266.5 439.5,266.5 440,266.5 440.6,266.5 441.1,266.5 441.7,266.5 442.2,266.5 442.8,266.5 443.4,266.5 443.9,266.5 444.5,266.5 445.1,266.5 445.6,266.5 446.2,266.5 446.8,266.5 447.3,266.5 447.9,266.5 448.5,266.5 449.1,266.5 449.6,266.5 450.2,266.5 450.8,266.5 451.3,266.5 451.9,266.5 452.5,266.5 453,266.5 453.6,266.5 454.1,266.5 454.7,266.5 455.2,266.5 455.8,266.5 456.3,266.5 456.9,266.5 457.4,266.5 458,266.5 458.5,266.5 459,266.5 459.5,266.5 460.1,267.8 460.6,267.8 461.1,267.8 461.6,267.8 462.1,267.8 462.6,267.8 463.1,267.8 463.6,269.1 464.1,269.1 464.6,269.1 465.2,269.1 465.7,270.4 466.2,270.4 466.7,270.4 467.2,270.4 467.7,270.4 468.2,271.7 468.7,271.7 469.2,271.7 469.8,271.7 470.3,271.7 470.8,271.7 471.3,271.7 471.8,273 472.3,273 472.9,273 473.4,273 473.9,273 474.4,273 474.9,274.3 475.5,274.3 476,274.3 476.5,274.3 477,274.3 477.5,274.3 478.1,274.3 478.6,275.6 479.1,275.6 479.6,275.6 480.2,275.6 480.7,275.6 481.2,275.6 481.7,275.6 482.3,275.6 482.8,276.9 483.3,276.9 483.9,276.9 484.4,276.9 484.9,276.9 485.4,276.9 486,276.9 486.5,276.9 487,278.2 487.6,278.2 488.1,278.2 488.6,278.2 489.2,278.2 489.7,278.2 490.2,278.2 490.8,278.2 491.3,279.5 491.8,279.5 492.4,279.5 492.9,279.5 493.5,279.5 494,279.5 494.5,279.5 495.1,279.5 495.6,279.5 496.1,280.8 496.7,280.8 497.2,280.8 497.7,280.8 498.3,280.8 498.8,280.8 499.3,280.8 499.9,282.1 500.4,282.1 500.9,282.1 501.4,282.1 502,282.1 502.5,282.1 503,282.1 503.6,282.1 504.1,283.4 504.7,283.4 505.2,283.4 505.7,283.4 506.3,283.4 506.8,283.4 507.4,283.4 507.9,283.4 508.5,283.4 509,283.4 509.6,283.4 510.1,283.4 510.7,283.4 511.3,283.4 511.8,283.4 512.4,283.4 512.9,283.4 513.5,283.4" fill="none" stroke="#0a0a0a" stroke-width="2.4" stroke-linejoin="bevel" stroke-linecap="round"/>
<text x="6.8" y="270.2" font-size="20" font-weight="bold" text-anchor="start" class="b">C</text>
<line x1="74.2" y1="247" x2="74.2" y2="255.2" stroke="#0a0a0a" stroke-width="1.5" stroke-linecap="butt"/>
<polygon points="69.5,253.2 78.9,253.2 74.2,266" fill="#0a0a0a"/>
<text x="92.1" y="260" font-size="14.6" font-weight="normal" text-anchor="start">Collagen 1 µg/mL</text>
<text x="30" y="297" font-size="14.5" font-weight="bold" text-anchor="start" class="b">0%</text>
<text x="29.5" y="435" font-size="14.5" font-weight="bold" text-anchor="start" class="b">50%</text>
<line x1="39.8" y1="302.5" x2="39.8" y2="410.9" stroke="#0a0a0a" stroke-width="1.3" stroke-linecap="butt"/>
<polygon points="35.2,408.9 44.4,408.9 39.8,422.2" fill="#0a0a0a"/>
<text class="b" transform="translate(15.8 360.6) rotate(-90)" font-size="14.8" font-weight="bold" text-anchor="middle">Light</text>
<text class="b" transform="translate(30.7 358.6) rotate(-90)" font-size="14.8" font-weight="bold" text-anchor="middle">Transmittance</text>
<line x1="81" y1="407" x2="107.5" y2="407" stroke="#0a0a0a" stroke-width="1.3" stroke-linecap="butt"/>
<line x1="81" y1="402" x2="81" y2="412" stroke="#0a0a0a" stroke-width="1.3" stroke-linecap="butt"/>
<line x1="107.5" y1="402" x2="107.5" y2="412" stroke="#0a0a0a" stroke-width="1.3" stroke-linecap="butt"/>
<text x="79.3" y="428.3" font-size="12" font-weight="bold" text-anchor="start" class="b">1 min</text>
<line x1="72.3" y1="266" x2="72.3" y2="296" stroke="#7e7e7e" stroke-width="2.9" stroke-linecap="butt"/>
<polyline points="60.4,294.5 61.2,296.1 62.1,296 62.9,295.5 63.7,296 64.6,295.9 65.4,296 66.3,295.7 67.1,296.2 67.9,295.5 68.8,295.8 69.6,295.4 70.4,296.3 71.3,294.5 72.1,295.8 72.9,294.9 73.8,295.7 74.6,294.8 75.5,295.1 76.3,295.7 77.1,295.2 78,295.7 78.8,295.7 79.6,294.7 80.5,295.7 81.3,295 82.1,295.3 83,295.4 83.8,295.2 84.7,295 85.5,294.8 86.3,295.6 87.2,295.9 88,294.8" fill="none" stroke="#7e7e7e" stroke-width="3.4" stroke-linejoin="round" stroke-linecap="round"/>
<polyline points="87.5,296.1 88,295.6 88.6,295.6 89.1,295.2 89.6,294.9 90,294.8 90.5,294.4 90.9,294.1 91.3,293.6 91.7,293.5" fill="none" stroke="#7e7e7e" stroke-width="2.6" stroke-linejoin="bevel" stroke-linecap="round"/>
<polyline points="91.3,293.6 91.7,293.5 92.1,292.9 92.4,292.7 92.7,291.9 93,291.9 93.3,291.4 93.6,290.5 93.9,290.2 94.2,289.5 94.5,289.2" fill="none" stroke="#7e7e7e" stroke-width="2.6" stroke-linejoin="bevel" stroke-linecap="round"/>
<polyline points="94.2,289.5 94.5,289.2 94.8,288.9 95.1,288.4 95.5,287.7 95.8,287.6 96.1,287 96.5,286.2 96.8,285.9 97.2,285.3" fill="none" stroke="#7e7e7e" stroke-width="2.6" stroke-linejoin="bevel" stroke-linecap="round"/>
<polyline points="96.8,285.9 97.2,285.3 97.5,285.3 97.9,284.6 98.2,284.2 98.6,284 99,283.4 99.4,282.8 99.8,282.5 100.2,282.3 100.7,282.3" fill="none" stroke="#7e7e7e" stroke-width="2.6" stroke-linejoin="bevel" stroke-linecap="round"/>
<polyline points="100.2,282.3 100.7,282.3 101.1,282 101.6,281.5 102.1,281.2 102.6,280.8 103.2,280.6 103.7,280.6 104.2,280.5 104.8,280.2 105.3,280.1" fill="none" stroke="#7e7e7e" stroke-width="2.6" stroke-linejoin="bevel" stroke-linecap="round"/>
<polyline points="104.8,280.2 105.3,280.1 105.9,279.9 106.4,279.6 106.9,279.5 107.5,280 108,280.1 108.6,280.2 109.1,279.9 109.7,280.3" fill="none" stroke="#7e7e7e" stroke-width="2.6" stroke-linejoin="bevel" stroke-linecap="round"/>
<polyline points="109.1,279.9 109.7,280.3 110.2,280.5 110.7,280.6 111.3,280.8 111.8,281.1 112.4,280.8 112.9,281.2 113.4,281.2 113.9,281.6 114.5,281.9" fill="none" stroke="#7e7e7e" stroke-width="2.6" stroke-linejoin="bevel" stroke-linecap="round"/>
<polyline points="113.9,281.6 114.5,281.9 115,282.1 115.5,282.2 116,282.5 116.6,282.2 117.1,282.4 117.6,282.8 118.1,283.2 118.6,283.5 119.1,283.7" fill="none" stroke="#7e7e7e" stroke-width="2.6" stroke-linejoin="bevel" stroke-linecap="round"/>
<polyline points="118.6,283.5 119.1,283.7 119.6,283.6 120.1,284.1 120.6,284.3 121.1,284.3 121.6,284.8 122,285.2 122.5,285.1 123,285.8" fill="none" stroke="#7e7e7e" stroke-width="2.6" stroke-linejoin="bevel" stroke-linecap="round"/>
<polyline points="122.5,285.1 123,285.8 123.5,285.7 124,285.9 124.4,286.4 124.9,286.9 125.4,287.2 125.9,287.5 126.4,287.4 126.8,287.7 127.3,288" fill="none" stroke="#7e7e7e" stroke-width="2.6" stroke-linejoin="bevel" stroke-linecap="round"/>
<polyline points="126.8,287.7 127.3,288 127.8,288.3 128.3,288.7 128.8,289.3 129.2,289.4 129.7,289.4 130.2,290.1 130.7,290.1 131.2,290" fill="none" stroke="#7e7e7e" stroke-width="2.6" stroke-linejoin="bevel" stroke-linecap="round"/>
<polyline points="130.7,290.1 131.2,290 131.7,290.3 132.2,290.8 132.7,290.9 133.2,291.2 133.7,291.5 134.2,291.9 134.7,292.4 135.2,292.1 135.7,292.9" fill="none" stroke="#7e7e7e" stroke-width="2.6" stroke-linejoin="bevel" stroke-linecap="round"/>
<polyline points="135.2,292.1 135.7,292.9 136.2,292.8 136.7,293 137.2,293.2 137.7,293.5 138.2,293.7 138.8,293.9 139.3,294.4 139.8,294.2 140.3,294.3" fill="none" stroke="#7e7e7e" stroke-width="2.7" stroke-linejoin="bevel" stroke-linecap="round"/>
<polyline points="139.8,294.2 140.3,294.3 140.8,294.9 141.4,295 141.9,294.6 142.4,295 142.9,295.2 143.5,295 144,295.2 144.6,295.2" fill="none" stroke="#7e7e7e" stroke-width="2.7" stroke-linejoin="bevel" stroke-linecap="round"/>
<polyline points="144,295.2 144.6,295.2 145.1,295.2 145.6,295.6 146.2,295.3 146.7,295.7 147.3,295.8 147.8,295.9 148.4,296.2 148.9,295.7 149.5,295.9" fill="none" stroke="#7e7e7e" stroke-width="2.7" stroke-linejoin="bevel" stroke-linecap="round"/>
<polyline points="148.9,295.7 149.5,295.9 150,296.3 150.6,296.2 151.1,296.1 151.7,296.1 152.2,296.2 152.8,296.7 153.3,296.4 153.9,296.6 154.4,296.7" fill="none" stroke="#7e7e7e" stroke-width="2.7" stroke-linejoin="bevel" stroke-linecap="round"/>
<polyline points="153.9,296.6 154.4,296.7 155,296.9 155.6,296.7 156.1,296.7 156.7,297 157.2,296.8 157.8,296.7 158.3,297.4 158.9,297.4" fill="none" stroke="#7e7e7e" stroke-width="2.7" stroke-linejoin="bevel" stroke-linecap="round"/>
<polyline points="158.3,297.4 158.9,297.4 159.5,297.1 160,297.3 160.6,297.4 161.1,297.2 161.7,297.1 162.3,297.1 162.8,297.7 163.4,297.9 163.9,297.5" fill="none" stroke="#7e7e7e" stroke-width="2.7" stroke-linejoin="bevel" stroke-linecap="round"/>
<polyline points="163.4,297.9 163.9,297.5 164.5,298 165,297.7 165.6,297.7 166.1,297.6 166.7,297.9 167.2,297.9 167.8,298.3 168.3,298.4" fill="none" stroke="#7e7e7e" stroke-width="2.7" stroke-linejoin="bevel" stroke-linecap="round"/>
<polyline points="167.8,298.3 168.3,298.4 168.9,298.3 169.4,298.2 170,298.2 170.5,298.7 171.1,298.6 171.6,298.6 172.2,298.2 172.7,299 173.3,298.6" fill="none" stroke="#7e7e7e" stroke-width="2.7" stroke-linejoin="bevel" stroke-linecap="round"/>
<polyline points="172.7,299 173.3,298.6 173.8,298.8 174.4,298.6 174.9,299.2 175.5,299.3 176,299 176.6,299.3 177.1,299.5 177.7,299.5 178.2,299" fill="none" stroke="#7e7e7e" stroke-width="2.7" stroke-linejoin="bevel" stroke-linecap="round"/>
<polyline points="177.7,299.5 178.2,299 178.8,299.1 179.3,299.3 179.9,299.5 180.4,299.4 181,299.4 181.5,299.5 182.1,300.1 182.6,300.1" fill="none" stroke="#7e7e7e" stroke-width="2.7" stroke-linejoin="bevel" stroke-linecap="round"/>
<polyline points="182.1,300.1 182.6,300.1 183.2,299.6 183.7,299.9 184.3,300.3 184.8,299.9 185.4,300.2 185.9,300.1 186.5,300.7 187,300.4 187.6,300.3" fill="none" stroke="#7e7e7e" stroke-width="2.7" stroke-linejoin="bevel" stroke-linecap="round"/>
<polyline points="187,300.4 187.6,300.3 188.1,300.7 188.7,300.4 189.2,300.5 189.8,301.1 190.3,301.1 190.9,300.6 191.4,300.6 192,301.3" fill="none" stroke="#7e7e7e" stroke-width="2.7" stroke-linejoin="bevel" stroke-linecap="round"/>
<line x1="76.4" y1="280.7" x2="76.4" y2="296" stroke="#0a0a0a" stroke-width="2.2" stroke-linecap="butt"/>
<polyline points="61,296 61.8,296.9 62.7,295.8 63.5,295.1 64.4,295.2 65.2,296.1 66.1,296.8 66.9,297.3 67.8,295.7 68.6,296 69.4,296.8 70.3,296.7 71.1,296.9 72,296.8 72.8,296.3 73.7,296.9 74.5,296.1 75.3,296.9 76.2,296.1 77,295.2 77.9,297 78.7,295.3 79.6,296.3 80.4,296.8 81.2,296.5 82.1,296.4 82.9,297.4 83.8,295.6 84.6,296.2 85.5,296.8 86.3,297.4 87.2,295.5 88,295" fill="none" stroke="#0a0a0a" stroke-width="1.9" stroke-linejoin="round" stroke-linecap="round"/>
<polyline points="87.5,296.1 87.7,295.5 87.9,294.9 88,294.6 88.2,294.1 88.4,293.3 88.7,292.8 88.9,292.4 89.1,291.8 89.3,291.3 89.6,290.7 89.8,290.5 90,289.8 90.3,289.5 90.5,289 90.8,288.4 91,287.8 91.3,287.2 91.6,286.8 91.9,286.4" fill="none" stroke="#0a0a0a" stroke-width="2.4" stroke-linejoin="bevel" stroke-linecap="round"/>
<polyline points="91.6,286.8 91.9,286.4 92.2,285.7 92.4,285.2 92.7,284.3 93.1,284 93.4,283.5 93.7,282.7 94,282.3 94.4,282.2 94.7,281.7 95.1,281.5 95.4,281.6 95.8,281.7 96.3,281.9 96.7,281.8 97.2,282.3 97.7,282.4 98.2,283 98.6,283.6" fill="none" stroke="#0a0a0a" stroke-width="2.4" stroke-linejoin="bevel" stroke-linecap="round"/>
<polyline points="98.2,283 98.6,283.6 99.1,283.9 99.5,284.4 99.8,284.9 100.2,285 100.4,285.5 100.7,286 101,286.7 101.2,287 101.5,287.5 101.7,287.8 102,288.6 102.2,288.8 102.4,289.6 102.6,289.9 102.8,290.7 103,290.9 103.2,291.5 103.4,292.3" fill="none" stroke="#0a0a0a" stroke-width="2.4" stroke-linejoin="bevel" stroke-linecap="round"/>
<polyline points="103.2,291.5 103.4,292.3 103.6,292.6 103.7,293.3 103.9,293.8 104.1,294.4 104.3,294.9 104.4,295.4 104.6,295.9 104.7,296.6 104.9,296.9 105.1,297.6 105.2,297.9 105.4,298.7 105.5,299.1 105.7,299.7 105.8,300 105.9,300.9 106.1,301.4 106.2,301.9" fill="none" stroke="#0a0a0a" stroke-width="2.4" stroke-linejoin="bevel" stroke-linecap="round"/>
<polyline points="106.1,301.4 106.2,301.9 106.3,302.4 106.5,302.9 106.6,303.2 106.7,303.9 106.9,304.3 107,304.8 107.1,305.6 107.2,306.3 107.4,306.8 107.5,307.1 107.6,307.6 107.7,308.3 107.8,308.6 107.9,309.5 108,310 108.1,310.5 108.3,311.1 108.4,311.4" fill="none" stroke="#0a0a0a" stroke-width="2.4" stroke-linejoin="bevel" stroke-linecap="round"/>
<polyline points="108.3,311.1 108.4,311.4 108.5,312.2 108.6,312.5 108.7,313.1 108.8,313.8 108.9,314.2 109,314.9 109.1,315.2 109.1,315.7 109.2,316.6 109.3,317.1 109.4,317.6 109.5,318 109.6,318.4 109.7,318.9 109.8,319.8 109.8,320.3 109.9,320.6 110,321.3" fill="none" stroke="#0a0a0a" stroke-width="2.4" stroke-linejoin="bevel" stroke-linecap="round"/>
<polyline points="109.9,320.6 110,321.3 110.1,321.8 110.2,322.4 110.2,322.9 110.3,323.5 110.4,323.8 110.5,324.4 110.5,325 110.6,325.6 110.7,326.2 110.7,326.9 110.8,327.5 110.9,327.9 111,328.3 111,329 111.1,329.5 111.2,330 111.2,330.7 111.3,331.2" fill="none" stroke="#0a0a0a" stroke-width="2.4" stroke-linejoin="bevel" stroke-linecap="round"/>
<polyline points="111.2,330.7 111.3,331.2 111.4,331.8 111.5,332.2 111.5,332.7 111.6,333.3 111.7,333.9 111.7,334.5 111.8,335.1 111.9,335.5 112,336 112,336.7 112.1,337.2 112.2,337.9 112.2,338.2 112.3,338.7 112.4,339.5 112.5,339.7 112.6,340.3 112.6,341" fill="none" stroke="#0a0a0a" stroke-width="2.4" stroke-linejoin="bevel" stroke-linecap="round"/>
<polyline points="112.6,340.3 112.6,341 112.7,341.6 112.8,342 112.9,342.4 113,343.2 113,343.8 113.1,344.4 113.2,344.7 113.3,345.3 113.4,346 113.4,346.5 113.5,346.9 113.6,347.4 113.7,348 113.8,348.5 113.8,349.2 113.9,349.6 114,350.1 114.1,351" fill="none" stroke="#0a0a0a" stroke-width="2.4" stroke-linejoin="bevel" stroke-linecap="round"/>
<polyline points="114,350.1 114.1,351 114.2,351.4 114.3,351.7 114.3,352.5 114.4,352.8 114.5,353.5 114.6,354.1 114.7,354.7 114.8,355.4 114.8,355.6 114.9,356 115,356.6 115.1,357.2 115.2,357.7 115.3,358.4 115.3,358.9 115.4,359.9 115.5,360.4 115.6,360.6" fill="none" stroke="#0a0a0a" stroke-width="2.4" stroke-linejoin="bevel" stroke-linecap="round"/>
<polyline points="115.5,360.4 115.6,360.6 115.7,361 115.8,362.1 115.9,362.4 116,363.2 116.1,363.3 116.1,363.4 116.2,364.2 116.3,364.6 116.4,365.6 116.5,366.2 116.6,366.2 116.7,367.5 116.8,367.9 116.9,368.1 117,368.7 117.1,369.3 117.2,370.1 117.3,370.4" fill="none" stroke="#0a0a0a" stroke-width="2.5" stroke-linejoin="bevel" stroke-linecap="round"/>
<polyline points="117.2,370.1 117.3,370.4 117.4,371.5 117.4,371.7 117.5,371.8 117.6,373 117.7,373.2 117.8,373.2 117.9,374.5 118,375.4 118.1,375.2 118.2,376 118.3,375.7 118.4,376.2 118.5,377.1 118.6,378.8 118.7,377.9 118.8,378.8 118.9,379.9 119,380.9 119.2,381.6" fill="none" stroke="#0a0a0a" stroke-width="2.6" stroke-linejoin="bevel" stroke-linecap="round"/>
<polyline points="119,380.9 119.2,381.6 119.3,381.5 119.4,380.9 119.5,382.2 119.6,383.7 119.7,383 119.8,383 119.9,385.4 120,385.9 120.1,386.1 120.2,385.4 120.3,387.1 120.5,386.4 120.6,387.2 120.7,387.2 120.8,388.2 120.9,390.3 121,390.5 121.1,390.9" fill="none" stroke="#0a0a0a" stroke-width="2.7" stroke-linejoin="bevel" stroke-linecap="round"/>
<polyline points="121,390.5 121.1,390.9 121.3,391.2 121.4,390.8 121.5,391 121.6,392 121.7,394 121.9,393.7 122,393.1 122.1,394.2 122.2,395.2 122.4,395 122.5,395.3 122.6,396.9 122.7,398.5 122.9,397.2 123,398.3 123.1,399.9 123.2,399.8 123.4,400.5" fill="none" stroke="#0a0a0a" stroke-width="2.9" stroke-linejoin="bevel" stroke-linecap="round"/>
<polyline points="123.2,399.8 123.4,400.5 123.5,401.3 123.6,402.1 123.8,400.4 123.9,402.5 124,401.6 124.2,402.3 124.3,402.5 124.4,403.4 124.6,406.1 124.7,404.4 124.9,404.5 125,405.8 125.1,408 125.3,407.7 125.4,408.3 125.5,409.2 125.7,408.6 125.8,410.7" fill="none" stroke="#0a0a0a" stroke-width="3" stroke-linejoin="bevel" stroke-linecap="round"/>
<polyline points="125.7,408.6 125.8,410.7 126,410.3 126.1,410.2 126.2,410.6 126.4,413.6 126.5,413.5 126.7,413.2 126.8,413.6 126.9,414.5 127.1,412.9 127.2,413.6 127.4,416.2 127.5,416.9 127.7,418.2 127.8,417.7 128,418.7 128.2,418.6 128.3,418.5 128.5,419.2" fill="none" stroke="#0a0a0a" stroke-width="3.2" stroke-linejoin="bevel" stroke-linecap="round"/>
<polyline points="128.3,418.5 128.5,419.2 128.6,421.7 128.8,422.1 129,422.4 129.1,421.8 129.3,420.9 129.5,420.9 129.7,424.6 129.9,422.1 130.1,423.5 130.2,425.8 130.4,424 130.6,426.7 130.8,425.1 131,427.7 131.3,427.9 131.5,426.8 131.7,427.5 131.9,428.1" fill="none" stroke="#0a0a0a" stroke-width="3.5" stroke-linejoin="bevel" stroke-linecap="round"/>
<polyline points="131.7,427.5 131.9,428.1 132.2,429.4 132.4,431.2 132.6,430.3 132.9,430.3 133.2,430.7 133.4,430.4 133.7,432.8 133.9,432.6 134.2,434.7 134.5,433.7 134.8,435.9 135.1,434.4 135.4,435.2 135.6,434.4 135.9,437.2 136.3,434.7 136.6,435.8 136.9,436.8" fill="none" stroke="#0a0a0a" stroke-width="4" stroke-linejoin="bevel" stroke-linecap="round"/>
<polyline points="136.6,435.8 136.9,436.8 137.2,439.2 137.5,438.8 137.8,438.1 138.2,440.8 138.5,440.9 138.8,438.3 139.2,439.5 139.5,441.7 139.8,442.7 140.2,442.6 140.5,443.6 140.9,441.1 141.3,441 141.7,443 142.1,442 142.5,444.7 142.9,446 143.3,444.5" fill="none" stroke="#0a0a0a" stroke-width="4.3" stroke-linejoin="bevel" stroke-linecap="round"/>
<polyline points="142.9,446 143.3,444.5 143.7,445.5 144.2,445.2 144.6,444.7 145,444.9 145.5,447.5 146,448.6 146.4,446.9 146.9,446.3 147.3,449.3 147.8,447.4 148.3,449.7 148.8,449.5 149.3,448.5 149.7,449.5 150.2,449.2 150.7,448.5 151.2,449.1 151.7,450.6" fill="none" stroke="#0a0a0a" stroke-width="4.3" stroke-linejoin="bevel" stroke-linecap="round"/>
<polyline points="151.2,449.1 151.7,450.6 152.2,451.6 152.7,449.2 153.2,449.8 153.7,449.3 154.2,453.1 154.7,450 155.2,451.2 155.8,450.1 156.3,452 156.8,452.7 157.4,452.4 157.9,453.2 158.5,451.5 159,454.3 159.6,453.9 160.1,451.8 160.7,452.9 161.2,451.4" fill="none" stroke="#0a0a0a" stroke-width="4.3" stroke-linejoin="bevel" stroke-linecap="round"/>
<polyline points="160.7,452.9 161.2,451.4 161.8,454.5 162.3,454.9 162.9,453.5 163.4,452.9 164,454.6 164.5,452.9 165.1,451.8 165.6,454.1 166.2,453.1 166.7,455.4 167.2,453.6 167.8,452 168.3,454.6 168.9,455.2 169.4,452.1 170,452.8 170.5,453.4 171.1,454.3" fill="none" stroke="#0a0a0a" stroke-width="4.3" stroke-linejoin="bevel" stroke-linecap="round"/>
<polyline points="170.5,453.4 171.1,454.3 171.6,454.3 172.2,454 172.7,454.9 173.3,454.4 173.8,451.7 174.4,455.3 174.9,454.7 175.5,454.1 176,454.5 176.6,454.7 177.1,451.7 177.7,454 178.2,452.1 178.8,452.5 179.3,454.6 179.9,453.6 180.4,452.6 181,452.2" fill="none" stroke="#0a0a0a" stroke-width="4.3" stroke-linejoin="bevel" stroke-linecap="round"/>
<polyline points="180.4,452.6 181,452.2 181.5,453.3 182.1,451.9 182.6,452.9 183.2,454.7 183.7,452.8 184.3,453.4 184.9,455 185.4,452.7 186,452.4 186.5,452.9 187.1,452.8 187.6,454.9 188.2,451.3 188.8,451.8 189.3,454.2 189.9,451.2 190.4,452.8 191,453.7" fill="none" stroke="#0a0a0a" stroke-width="4.3" stroke-linejoin="bevel" stroke-linecap="round"/>
<polyline points="120,385 120.2,386.1 120.5,387.2 120.7,388.3 120.9,389.4 121.1,390.6 121.4,391.4 121.6,392.5 121.9,394 122.1,395.2 122.4,395.7 122.6,396.2 122.9,397.8 123.1,399.2 123.4,399.4 123.6,400.6 123.9,401.5 124.2,403.1 124.4,404.5 124.7,405.1 125,406.5 125.3,409 125.5,408.7 125.8,409.8 126.1,411.7 126.4,412.1 126.7,412.9 126.9,414.6 127.2,414.6 127.5,414.8 127.8,419.8 128.2,417.1 128.5,417 128.8,418.4 129.1,424.4 129.5,420.4 129.9,423.8 130.2,426.3 130.6,424.3 131,424.8 131.5,429.6 131.9,427.9 132.4,428.3 132.9,431.2 133.4,434.6 133.9,430.8 134.5,430.1 135.1,429.5 135.6,433.1 136.3,438.5 136.9,442.4 137.5,438.4 138.2,437.7 138.8,440.6 139.5,439.2 140.2,437.1 140.9,438 141.7,448.6 142.5,444.6 143.3,438.7 144.2,447.4 145,445.8 146,442.9 146.9,448.5 147.8,448.5 148.8,450.5 149.7,449.2 150.7,448.7 151.7,444.2 152.7,452.7 153.7,451 154.7,451.2 155.8,453.3 156.8,452.2 157.9,457.6 159,453.8 160.1,458.3 161.2,449.9 162.3,454.9 163.4,458.5 164.5,456.8 165.6,452.1 166.7,456.5 167.8,453.9 168.9,451 170,456.4 171.1,448.5 172.2,448.5 173.3,449.7 174.4,449.1 175.5,458.1 176.6,450.1 177.7,459.3 178.8,447.8 179.9,448.1 181,453 182.1,454.9 183.2,453.9 184.3,451.6 185.4,453.6 186.5,451.8 187.6,450 188.8,452 189.9,452.1 191,457.6" fill="none" stroke="#0a0a0a" stroke-width="1.2" stroke-linejoin="miter" stroke-linecap="butt"/>
<text x="120.3" y="317.4" font-size="14.5" font-weight="bold" text-anchor="start" class="b">WT + SB216763</text>
<text x="146" y="431" font-size="14.5" font-weight="bold" text-anchor="start" class="b">WT + DMSO</text>
<line x1="66" y1="451" x2="66" y2="561" stroke="#0a0a0a" stroke-width="3.4" stroke-linecap="butt"/>
<line x1="52" y1="474.6" x2="66" y2="474.6" stroke="#0a0a0a" stroke-width="1.3" stroke-linecap="butt"/>
<line x1="52" y1="521.7" x2="66" y2="521.7" stroke="#0a0a0a" stroke-width="1.3" stroke-linecap="butt"/>
<text x="50" y="480" font-size="14.5" font-weight="bold" text-anchor="end" class="b">1</text>
<text x="50" y="527" font-size="14.5" font-weight="bold" text-anchor="end" class="b">0</text>
<text class="b" transform="translate(16.2 505) rotate(-90)" font-size="14.8" font-weight="bold" text-anchor="middle">ATP</text>
<text class="b" transform="translate(30.4 504.2) rotate(-90)" font-size="14.8" font-weight="bold" text-anchor="middle">Secretion (µM)</text>
<polyline points="67.5,510 67.9,510.4 68.4,510.8 68.8,511.2 69.2,511.7 69.7,512.1 70.1,512.5 70.5,512.9 70.9,513.4 71.3,513.8 71.7,514.3 72.1,514.7 72.5,515.2 72.9,515.6 73.3,516.1 73.6,516.6 74,517.1 74.3,517.5 74.7,518 75.1,518.5 75.4,519" fill="none" stroke="#7e7e7e" stroke-width="2.3" stroke-linejoin="bevel" stroke-linecap="round"/>
<polyline points="75.4,519 76.3,530 77,544 77.7,530 78.5,522" fill="none" stroke="#7e7e7e" stroke-width="2.5" stroke-linejoin="round"/>
<polyline points="78.5,521.6 79.1,521.6 79.6,521.6 80.2,521.6 80.7,521.6 81.3,521.6 81.9,521.6 82.4,521.6 83,521.6 83.5,521.6 84.1,521.6 84.6,521.6 85.2,521.6 85.7,521.6 86.3,521.6 86.8,521.6 87.4,521.6 87.9,521.6 88.5,521.6 89,521.6 89.6,521.6 90.1,521.6 90.7,521.6 91.2,521.6 91.8,521.6 92.3,521.6 92.9,521.6 93.4,521.6 94,521.6 94.5,521.6 95,520.8 95.6,520.8 96.1,520.8 96.7,520.8 97.2,520.8 97.7,520 98.3,520 98.8,520 99.3,520 99.9,519.2 100.4,519.2 100.9,519.2 101.4,519.2 101.9,519.2 102.5,518.4 103,518.4 103.5,518.4 103.9,517.6 104.4,517.6 104.9,517.6 105.4,517.6 105.9,516.8 106.4,516.8 106.9,516 107.4,516 107.8,516 108.3,515.2 108.8,515.2 109.3,515.2 109.8,514.4 110.2,514.4 110.7,514.4 111.2,513.6 111.7,513.6 112.2,513.6 112.7,512.8 113.2,512.8 113.7,512.8 114.2,512.8 114.7,512 115.3,512 115.8,512 116.3,511.2 116.8,511.2 117.4,511.2 117.9,511.2 118.4,510.4 119,510.4 119.5,510.4 120,510.4 120.6,510.4 121.1,510.4 121.6,509.6 122.2,509.6 122.7,509.6 123.3,509.6 123.8,509.6 124.4,509.6 124.9,509.6 125.5,509.6 126,509.6 126.6,509.6 127.1,509.6 127.7,509.6 128.2,509.6 128.8,509.6 129.3,509.6 129.9,509.6 130.5,509.6 131,509.6 131.6,509.6 132.1,509.6 132.7,509.6 133.2,509.6 133.8,509.6 134.4,509.6 134.9,509.6 135.5,509.6 136,509.6 136.6,509.6 137.1,509.6 137.7,509.6 138.2,509.6 138.8,509.6 139.4,509.6 139.9,509.6 140.5,509.6 141,509.6 141.6,510.4 142.1,510.4 142.7,510.4 143.2,510.4 143.8,510.4 144.3,510.4 144.8,510.4 145.4,510.4 145.9,511.2 146.4,511.2 146.9,511.2 147.5,511.2 148,512 148.5,512 149,512 149.5,512 150,512.8 150.5,512.8 151.1,512.8 151.6,512.8 152.1,513.6 152.6,513.6 153.1,513.6 153.6,514.4 154.1,514.4 154.6,514.4 155.1,514.4 155.7,514.4 156.2,515.2 156.7,515.2 157.3,515.2 157.8,515.2 158.3,515.2 158.9,515.2 159.4,516 160,516 160.5,516 161.1,516 161.6,516 162.2,516 162.7,516 163.2,516.8 163.8,516.8 164.3,516.8 164.9,516.8 165.4,516.8 166,516.8 166.5,516.8 167.1,517.6 167.6,517.6 168.2,517.6 168.7,517.6 169.2,517.6 169.8,517.6 170.3,517.6 170.9,517.6 171.4,518.4 172,518.4 172.5,518.4 173.1,518.4 173.6,518.4 174.2,518.4 174.7,518.4 175.2,518.4 175.8,518.4 176.3,519.2 176.9,519.2 177.4,519.2 178,519.2 178.5,519.2 179.1,519.2 179.6,519.2 180.2,519.2 180.7,519.2 181.3,520 181.8,520 182.4,520 182.9,520 183.5,520 184,520 184.6,520 185.1,520 185.7,520 186.2,520.8 186.7,520.8 187.3,520.8 187.8,520.8 188.4,520.8 188.9,520.8 189.5,520.8 190,520.8 190.6,520.8 191.1,520.8 191.7,521.6 192.2,521.6 192.8,521.6 193.3,521.6 193.9,521.6 194.4,521.6 195,521.6 195.5,521.6 196,522.4 196.6,522.4 197.1,522.4 197.7,522.4 198.2,522.4 198.8,522.4 199.3,522.4 199.9,522.4 200.4,523.2 201,523.2 201.5,523.2" fill="none" stroke="#7e7e7e" stroke-width="2.3" stroke-linejoin="bevel" stroke-linecap="round"/>
<polyline points="67.5,492.8 68.1,493 68.6,493.2 69.1,493.4 69.6,493.7 70.1,494 70.5,494.3 70.9,494.7 71.3,495.1 71.7,495.6 72.1,496 72.5,496.4 72.9,496.9 73.3,497.3 73.7,497.7 74,498.1 74.4,498.6 74.8,499 75.2,499.4 75.6,499.8 75.9,500.3 76.3,500.7 76.7,501.1 77.1,501.6 77.4,502 77.8,502.4 78.2,502.9 78.6,503.3 78.9,503.7 79.3,504.2 79.7,504.6 80,505 80.4,505.5 80.8,505.9 81.1,506.4 81.5,506.8" fill="none" stroke="#0a0a0a" stroke-width="2.4" stroke-linejoin="bevel" stroke-linecap="round"/>
<polyline points="81.5,507 82,530 82.6,556 83.2,530 83.8,517.7" fill="none" stroke="#0a0a0a" stroke-width="2.4" stroke-linejoin="round"/>
<polyline points="83.8,517.5 84.3,518.4 84.8,518.4 85.3,518.4 85.8,519.3 86.3,519.3 86.9,519.3 87.4,519.3 87.9,520.2 88.4,520.2 88.9,520.2 89.4,520.2 90,520.2 90.5,521.1 91,521.1 91.6,521.1 92.1,521.1 92.6,521.1 93.2,521.1 93.7,521.1 94.3,521.1 94.8,520.2 95.4,520.2 96,520.2 96.5,520.2 97.1,520.2 97.6,520.2 98.2,520.2 98.7,520.2 99.3,519.3 99.8,519.3 100.3,519.3 100.8,519.3 101.3,519.3 101.8,519.3 102.3,518.4 102.8,518.4 103.2,518.4 103.7,518.4 104.1,517.5 104.6,517.5 105,516.6 105.5,516.6 105.9,516.6 106.3,515.7 106.8,515.7 107.2,514.8 107.6,514.8 108,513.9 108.4,513.9 108.8,513.9 109.2,513 109.6,513 110,512.1 110.4,512.1 110.8,511.2 111.2,511.2 111.6,510.3 112,510.3 112.4,510.3 112.7,509.4 113.1,509.4 113.5,508.5 113.9,508.5 114.2,507.6 114.6,507.6 115,506.7 115.3,506.7 115.7,505.8 116.1,505.8 116.4,505.8 116.8,504.9 117.1,504.9 117.5,504 117.8,504 118.2,503.1 118.5,503.1 118.9,502.2 119.2,502.2 119.5,501.3 119.9,501.3 120.2,500.4 120.5,500.4 120.8,499.5 121.2,499.5 121.5,498.6 121.8,498.6 122.1,497.7 122.4,497.7 122.7,496.8 123,496.8 123.3,495.9 123.6,495.9 123.9,495 124.2,495 124.5,494.1 124.8,493.2 125,493.2 125.3,492.3 125.6,492.3 125.8,491.4 126.1,491.4 126.4,490.5 126.6,490.5 126.9,489.6 127.1,489.6 127.4,488.7 127.6,488.7 127.9,487.8 128.1,486.9 128.4,486.9 128.6,486 128.9,486 129.2,485.1 129.4,485.1 129.7,484.2 129.9,484.2 130.2,483.3 130.5,482.4 130.7,482.4 131,481.5 131.3,481.5 131.6,480.6 131.9,480.6 132.2,479.7 132.5,479.7 132.8,478.8 133.1,478.8 133.4,477.9 133.7,477.9 134,477 134.3,477 134.6,476.1 135,475.2 135.3,475.2 135.6,475.2 136,474.3 136.4,474.3 136.8,473.4 137.2,473.4 137.7,473.4 138.2,473.4 138.7,472.5 139.3,472.5 139.8,472.5 140.4,472.5 140.9,472.5 141.4,472.5 142,472.5 142.5,472.5 143.1,472.5 143.6,472.5 144.2,472.5 144.7,473.4 145.2,473.4 145.8,473.4 146.3,473.4 146.8,473.4 147.3,474.3 147.8,474.3 148.3,474.3 148.9,474.3 149.4,475.2 149.9,475.2 150.4,475.2 150.8,475.2 151.3,476.1 151.8,476.1 152.3,476.1 152.7,477 153.2,477 153.7,477 154.1,477.9 154.6,477.9 155,477.9 155.5,478.8 156,478.8 156.4,478.8 156.8,479.7 157.3,479.7 157.7,479.7 158.2,480.6 158.6,480.6 159.1,480.6 159.5,481.5 159.9,481.5 160.4,482.4 160.8,482.4 161.3,482.4 161.7,483.3 162.1,483.3 162.6,484.2 163,484.2 163.5,484.2 163.9,485.1 164.3,485.1 164.8,485.1 165.2,486 165.7,486 166.1,486 166.6,486.9 167.1,486.9 167.5,487.8 168,487.8 168.4,487.8 168.9,488.7 169.4,488.7 169.8,488.7 170.3,489.6 170.8,489.6 171.2,489.6 171.7,490.5 172.1,490.5 172.6,490.5 173.1,491.4 173.5,491.4 174,491.4 174.5,492.3 174.9,492.3 175.4,492.3 175.9,493.2 176.4,493.2 176.8,493.2 177.3,494.1 177.8,494.1 178.2,494.1 178.7,495 179.2,495 179.7,495 180.2,495.9 180.6,495.9 181.1,495.9 181.6,495.9 182.1,496.8 182.6,496.8 183,496.8 183.5,497.7 184,497.7 184.5,497.7 185,497.7 185.5,498.6 186,498.6 186.5,498.6 187,498.6 187.5,499.5 188,499.5 188.5,499.5 189,499.5 189.5,500.4 190,500.4 190.5,500.4 191.1,500.4 191.6,501.3 192.1,501.3 192.6,501.3 193.1,501.3 193.6,501.3 194.2,502.2 194.7,502.2 195.2,502.2 195.7,502.2 196.3,502.2 196.8,503.1 197.3,503.1 197.9,503.1 198.4,503.1 198.9,503.1 199.5,503.1 200,504" fill="none" stroke="#0a0a0a" stroke-width="2.5" stroke-linejoin="bevel" stroke-linecap="round"/>
<text x="278.6" y="342" font-size="20" font-weight="bold" text-anchor="start" class="b">D</text>
<line x1="357.5" y1="322.7" x2="357.5" y2="332.5" stroke="#0a0a0a" stroke-width="1.5" stroke-linecap="butt"/>
<polygon points="352.8,330.5 362.2,330.5 357.5,343.3" fill="#0a0a0a"/>
<text x="366.9" y="336.8" font-size="14.7" font-weight="normal" text-anchor="start">ADP 5µM</text>
<text x="319" y="367" font-size="14.5" font-weight="bold" text-anchor="start" class="b">0%</text>
<text x="317.8" y="476" font-size="14.5" font-weight="bold" text-anchor="start" class="b">50%</text>
<line x1="322.9" y1="374" x2="322.9" y2="449.5" stroke="#0a0a0a" stroke-width="1.3" stroke-linecap="butt"/>
<polygon points="318.3,447.5 327.5,447.5 322.9,460.8" fill="#0a0a0a"/>
<text class="b" transform="translate(295.3 411.5) rotate(-90)" font-size="14.8" font-weight="bold" text-anchor="middle">Light</text>
<text class="b" transform="translate(310.2 409.5) rotate(-90)" font-size="14.8" font-weight="bold" text-anchor="middle">Transmittance</text>
<line x1="358.8" y1="349" x2="358.8" y2="373" stroke="#7e7e7e" stroke-width="2.2" stroke-linecap="butt"/>
<polyline points="334,372.5 334.8,372.2 335.6,372.5 336.5,372.3 337.3,372.4 338.1,372.2 338.9,372.7 339.7,372.2 340.5,372.2 341.4,372.8 342.2,372.6 343,372.4 343.8,372.6 344.6,372.5 345.5,372.4 346.3,372.2 347.1,372.4 347.9,372.7 348.7,372.2 349.5,372.2 350.4,372.7 351.2,372.6 352,372.3 352.8,372.4 353.6,372.8 354.5,372.4 355.3,372.7 356.1,372.6 356.9,372.2 357.7,372.3 358.5,372.4 359.4,372.3 360.2,372.8 361,372.7 361.8,372.7 362.6,372.8 363.5,372.4 364.3,372.2 365.1,372.8 365.9,372.7 366.7,372.4 367.5,372.3 368.4,372.8 369.2,372.4 370,372.3" fill="none" stroke="#7e7e7e" stroke-width="2.5" stroke-linejoin="round" stroke-linecap="round"/>
<polyline points="370,371.2 370.6,371.5 371.1,371.5 371.7,371.4 372.2,371.5 372.7,371.7 373.3,371.8 373.8,371.8 374.4,372 374.9,372.4 375.4,372.4 376,372.3" fill="none" stroke="#7e7e7e" stroke-width="2.9" stroke-linejoin="bevel" stroke-linecap="round"/>
<polyline points="375.4,372.4 376,372.3 376.5,372.8 377,372.9 377.6,373.1 378.1,373.3 378.6,373.2 379.1,373.5 379.6,373.6 380.2,374 380.7,374 381.2,374.6" fill="none" stroke="#7e7e7e" stroke-width="2.9" stroke-linejoin="bevel" stroke-linecap="round"/>
<polyline points="380.7,374 381.2,374.6 381.6,374.8 382.1,375 382.6,375.3 383,375.8 383.5,376 383.9,376.2 384.4,376.5 384.8,377 385.3,377.3 385.8,377.6" fill="none" stroke="#7e7e7e" stroke-width="2.9" stroke-linejoin="bevel" stroke-linecap="round"/>
<polyline points="385.3,377.3 385.8,377.6 386.2,378 386.7,378.2 387.2,378.6 387.6,378.6 388.1,379.1 388.6,379.1 389,379.7 389.5,379.7 390,380 390.5,380.5" fill="none" stroke="#7e7e7e" stroke-width="2.9" stroke-linejoin="bevel" stroke-linecap="round"/>
<polyline points="390,380 390.5,380.5 390.9,380.7 391.4,381 391.9,381.1 392.4,381.7 392.9,381.8 393.3,382.2 393.8,382.6 394.3,382.4 394.8,382.7 395.3,383.3" fill="none" stroke="#7e7e7e" stroke-width="2.9" stroke-linejoin="bevel" stroke-linecap="round"/>
<polyline points="394.8,382.7 395.3,383.3 395.8,383.3 396.3,383.6 396.8,383.8 397.3,383.9 397.7,384.3 398.2,384.4 398.7,385 399.2,385.1 399.7,385.1 400.2,385.7 400.7,385.8" fill="none" stroke="#7e7e7e" stroke-width="2.9" stroke-linejoin="bevel" stroke-linecap="round"/>
<polyline points="400.2,385.7 400.7,385.8 401.3,385.9 401.8,386.2 402.3,386.7 402.8,386.4 403.3,386.7 403.8,386.9 404.3,387.5 404.8,387.4 405.3,387.9 405.8,387.9" fill="none" stroke="#7e7e7e" stroke-width="2.9" stroke-linejoin="bevel" stroke-linecap="round"/>
<polyline points="405.3,387.9 405.8,387.9 406.4,388.3 406.9,388.3 407.4,388.5 407.9,388.7 408.4,389 408.9,389.2 409.5,389.2 410,389.3 410.5,389.5 411,390" fill="none" stroke="#7e7e7e" stroke-width="2.9" stroke-linejoin="bevel" stroke-linecap="round"/>
<polyline points="410.5,389.5 411,390 411.5,390.4 412.1,390.5 412.6,390.6 413.1,391 413.6,390.9 414.1,391.1 414.7,391.5 415.2,391.5 415.7,391.4 416.2,391.9" fill="none" stroke="#7e7e7e" stroke-width="2.9" stroke-linejoin="bevel" stroke-linecap="round"/>
<polyline points="415.7,391.4 416.2,391.9 416.8,391.8 417.3,392.3 417.8,392.3 418.3,392.7 418.8,392.8 419.4,392.9 419.9,392.8 420.4,393.5 421,393.1 421.5,393.7" fill="none" stroke="#7e7e7e" stroke-width="2.9" stroke-linejoin="bevel" stroke-linecap="round"/>
<polyline points="421,393.1 421.5,393.7 422,393.9 422.5,393.7 423.1,393.7 423.6,393.9 424.1,394.1 424.7,394.3 425.2,394.4 425.7,395.1 426.2,394.7 426.8,395" fill="none" stroke="#7e7e7e" stroke-width="2.9" stroke-linejoin="bevel" stroke-linecap="round"/>
<polyline points="426.2,394.7 426.8,395 427.3,395.1 427.8,395.6 428.4,395.3 428.9,395.8 429.4,395.9 430,395.9 430.5,396.1 431,396.5 431.6,396.6 432.1,396.9 432.6,396.4" fill="none" stroke="#7e7e7e" stroke-width="2.9" stroke-linejoin="bevel" stroke-linecap="round"/>
<polyline points="432.1,396.9 432.6,396.4 433.2,396.6 433.7,396.8 434.3,397.4 434.8,397.4 435.3,397.3 435.9,397.6 436.4,397.6 436.9,397.7 437.5,398.1 438,398.1" fill="none" stroke="#7e7e7e" stroke-width="3" stroke-linejoin="bevel" stroke-linecap="round"/>
<polyline points="437.5,398.1 438,398.1 438.5,398.4 439.1,398.3 439.6,398.7 440.2,398.9 440.7,399 441.2,398.8 441.8,399.3 442.3,399.1 442.8,399.3 443.4,399" fill="none" stroke="#7e7e7e" stroke-width="3" stroke-linejoin="bevel" stroke-linecap="round"/>
<polyline points="442.8,399.3 443.4,399 443.9,399.7 444.5,399.7 445,399.9 445.6,399.5 446.1,399.7 446.6,399.7 447.2,400.3 447.7,400.5 448.3,400.4 448.8,400.6" fill="none" stroke="#7e7e7e" stroke-width="3" stroke-linejoin="bevel" stroke-linecap="round"/>
<polyline points="448.3,400.4 448.8,400.6 449.3,400.8 449.9,401 450.4,400.7 451,400.9 451.5,400.7 452.1,401 452.6,401.1 453.2,401 453.7,401.1 454.2,401.3" fill="none" stroke="#7e7e7e" stroke-width="3" stroke-linejoin="bevel" stroke-linecap="round"/>
<polyline points="453.7,401.1 454.2,401.3 454.8,401.6 455.3,401.8 455.9,401.6 456.4,402.1 457,402.1 457.5,402.2 458.1,402.4 458.6,402.1 459.2,402.7 459.7,402.1" fill="none" stroke="#7e7e7e" stroke-width="3" stroke-linejoin="bevel" stroke-linecap="round"/>
<polyline points="459.2,402.7 459.7,402.1 460.2,402.2 460.8,402.7 461.3,403 461.9,402.7 462.4,403 463,403.3 463.5,403.1 464.1,403.2 464.6,403.6 465.2,403.7 465.7,403.4" fill="none" stroke="#7e7e7e" stroke-width="3" stroke-linejoin="bevel" stroke-linecap="round"/>
<polyline points="465.2,403.7 465.7,403.4 466.2,403.3 466.8,403.6 467.3,403.7 467.9,404.1 468.4,403.7 469,404 469.5,404.3 470.1,404.6 470.6,404.3 471.2,404.3" fill="none" stroke="#7e7e7e" stroke-width="3" stroke-linejoin="bevel" stroke-linecap="round"/>
<polyline points="470.6,404.3 471.2,404.3 471.7,404.4 472.2,404.6 472.8,404.9 473.3,404.5 473.9,405.2 474.4,405.2 475,404.7 475.5,404.7 476.1,404.8 476.6,405.6" fill="none" stroke="#7e7e7e" stroke-width="3" stroke-linejoin="bevel" stroke-linecap="round"/>
<polyline points="476.1,404.8 476.6,405.6 477.2,404.9 477.7,405.2 478.2,405.7 478.8,406 479.3,405.4 479.9,405.8 480.4,406 481,406.1 481.5,405.9 482.1,406.1" fill="none" stroke="#7e7e7e" stroke-width="3" stroke-linejoin="bevel" stroke-linecap="round"/>
<polyline points="481.5,405.9 482.1,406.1 482.6,406.5 483.2,406.7 483.7,406.4 484.3,406.7 484.8,406.7 485.4,406.7 485.9,406.7 486.4,407.1 487,407 487.5,407.2" fill="none" stroke="#7e7e7e" stroke-width="3" stroke-linejoin="bevel" stroke-linecap="round"/>
<polyline points="487,407 487.5,407.2 488.1,407.1 488.6,406.7 489.2,407.1 489.7,407.2 490.3,406.9 490.8,407.6 491.4,407.8 491.9,407.6 492.5,407.9 493,407.6" fill="none" stroke="#7e7e7e" stroke-width="3" stroke-linejoin="bevel" stroke-linecap="round"/>
<polyline points="492.5,407.9 493,407.6 493.6,408 494.1,407.9 494.7,407.6 495.2,408.2 495.8,408.2 496.3,408.2 496.9,408.1 497.4,408.7 498,408.2 498.5,408.5" fill="none" stroke="#7e7e7e" stroke-width="3" stroke-linejoin="bevel" stroke-linecap="round"/>
<line x1="360.4" y1="368.5" x2="360.4" y2="378.3" stroke="#0a0a0a" stroke-width="2.7" stroke-linecap="butt"/>
<polyline points="334,375.4 334.8,375.4 335.7,375.5 336.5,376.6 337.4,375.6 338.2,376.6 339,376 339.9,376 340.7,375.6 341.5,375.8 342.4,375.6 343.2,376.3 344.1,375.8 344.9,376.7 345.7,375.3 346.6,375.2 347.4,376 348.2,376.4 349.1,375.4 349.9,376.1 350.8,376.6 351.6,376.3 352.4,376.7 353.3,375.9 354.1,375.9 354.9,375.4 355.8,375.6 356.6,376.6 357.4,376.2 358.3,376.4 359.1,375.5 360,375.7 360.8,375.3 361.6,376 362.5,375.5 363.3,375.8 364.1,376.2 365,376.7 365.8,376.6 366.7,376.2 367.5,375.2" fill="none" stroke="#0a0a0a" stroke-width="2.6" stroke-linejoin="round" stroke-linecap="round"/>
<polyline points="367.5,374.9 368,375 368.5,375.2 369,375.8 369.5,375.8 370,376.3 370.4,376.6 370.9,376.7 371.3,377.2 371.7,377.6 372.1,377.7 372.5,378.1 372.8,378.7 373.2,379.1" fill="none" stroke="#0a0a0a" stroke-width="3" stroke-linejoin="bevel" stroke-linecap="round"/>
<polyline points="372.8,378.7 373.2,379.1 373.6,379.6 373.9,379.8 374.3,380.2 374.6,380.7 374.9,381.5 375.3,381.7 375.6,382.2 375.9,382.4 376.2,383.2 376.5,383.7 376.8,384.2 377.1,384.3 377.4,384.7" fill="none" stroke="#0a0a0a" stroke-width="3" stroke-linejoin="bevel" stroke-linecap="round"/>
<polyline points="377.1,384.3 377.4,384.7 377.7,385.4 378,385.9 378.3,386.1 378.6,386.5 378.9,387.5 379.2,387.9 379.5,388.1 379.8,388.4 380.1,389.1 380.4,389.5 380.7,390.1 381,390.3 381.3,390.8" fill="none" stroke="#0a0a0a" stroke-width="3" stroke-linejoin="bevel" stroke-linecap="round"/>
<polyline points="381,390.3 381.3,390.8 381.7,391.4 382,391.9 382.3,392.1 382.6,392.6 383,393.3 383.3,393.6 383.6,393.8 384,394.3 384.3,395 384.6,395 385,396.1 385.3,396.4 385.6,396.5" fill="none" stroke="#0a0a0a" stroke-width="3" stroke-linejoin="bevel" stroke-linecap="round"/>
<polyline points="385.3,396.4 385.6,396.5 386,396.8 386.3,397.8 386.6,397.7 386.9,398.5 387.3,399.1 387.6,399 387.9,400 388.3,399.9 388.6,401 388.9,401.1 389.3,401.7 389.6,402.3 390,402.8" fill="none" stroke="#0a0a0a" stroke-width="3.1" stroke-linejoin="bevel" stroke-linecap="round"/>
<polyline points="389.6,402.3 390,402.8 390.3,402.6 390.7,403 391,404 391.4,404 391.7,404.6 392.1,405.2 392.4,405.6 392.8,405.8 393.2,406.6 393.6,406.9 394,406.7 394.3,407.6 394.7,407.7" fill="none" stroke="#0a0a0a" stroke-width="3.1" stroke-linejoin="bevel" stroke-linecap="round"/>
<polyline points="394.3,407.6 394.7,407.7 395.1,407.8 395.5,408.4 396,408.7 396.4,409.5 396.8,409.9 397.2,409.7 397.6,410.2 398.1,410.3 398.5,410.6 398.9,411.2 399.4,411.4 399.8,412.3 400.3,412.8" fill="none" stroke="#0a0a0a" stroke-width="3.1" stroke-linejoin="bevel" stroke-linecap="round"/>
<polyline points="399.8,412.3 400.3,412.8 400.7,412.6 401.2,412.7 401.6,413.1 402.1,413.8 402.6,413.9 403,414.4 403.5,414.5 404,414.7 404.4,414.9 404.9,415.7 405.4,415.5 405.9,415.6 406.3,416.3" fill="none" stroke="#0a0a0a" stroke-width="3.1" stroke-linejoin="bevel" stroke-linecap="round"/>
<polyline points="405.9,415.6 406.3,416.3 406.8,416.6 407.3,416.5 407.8,417.2 408.3,416.7 408.8,417.7 409.3,417.6 409.8,417.4 410.3,417.8 410.8,418.3 411.3,418.7 411.9,418.6 412.4,419.1 412.9,419.1" fill="none" stroke="#0a0a0a" stroke-width="3.1" stroke-linejoin="bevel" stroke-linecap="round"/>
<polyline points="412.4,419.1 412.9,419.1 413.4,418.9 413.9,418.9 414.5,419.6 415,419.7 415.5,419.8 416.1,419.6 416.6,420.3 417.1,420.8 417.7,420.7 418.2,420.4 418.7,420.9 419.2,421.4 419.8,421.6" fill="none" stroke="#0a0a0a" stroke-width="3.1" stroke-linejoin="bevel" stroke-linecap="round"/>
<polyline points="419.2,421.4 419.8,421.6 420.3,421.2 420.8,421.6 421.4,421.9 421.9,421.7 422.4,421.7 422.9,422.6 423.5,422.2 424,422.5 424.5,422.8 425,422.4 425.6,423.5 426.1,422.9 426.6,423.6" fill="none" stroke="#0a0a0a" stroke-width="3.1" stroke-linejoin="bevel" stroke-linecap="round"/>
<polyline points="426.1,422.9 426.6,423.6 427.2,423.9 427.7,423.3 428.2,424 428.8,423.9 429.3,423.9 429.8,424.2 430.3,424.6 430.9,424.8 431.4,425.2 431.9,424.7 432.5,425.1 433,425.2 433.6,425" fill="none" stroke="#0a0a0a" stroke-width="3.1" stroke-linejoin="bevel" stroke-linecap="round"/>
<polyline points="433,425.2 433.6,425 434.1,425.3 434.6,425.2 435.2,425.8 435.7,425.5 436.2,425.8 436.8,426.3 437.3,425.8 437.8,425.9 438.4,426.8 438.9,427.1 439.4,426.7 440,427 440.5,426.8" fill="none" stroke="#0a0a0a" stroke-width="3.2" stroke-linejoin="bevel" stroke-linecap="round"/>
<polyline points="440,427 440.5,426.8 441.1,427.4 441.6,426.9 442.1,427.1 442.7,427.3 443.2,427.4 443.8,428.2 444.3,428.3 444.8,428.1 445.4,427.6 445.9,428 446.5,428.8 447,428.5 447.5,429" fill="none" stroke="#0a0a0a" stroke-width="3.2" stroke-linejoin="bevel" stroke-linecap="round"/>
<polyline points="447,428.5 447.5,429 448.1,428.4 448.6,428.9 449.2,428.5 449.7,429.4 450.2,429.6 450.8,429.3 451.3,429.3 451.9,429.8 452.4,429.1 453,430 453.5,429.1 454.1,429.6 454.6,430" fill="none" stroke="#0a0a0a" stroke-width="3.2" stroke-linejoin="bevel" stroke-linecap="round"/>
<polyline points="454.1,429.6 454.6,430 455.1,430.2 455.7,429.9 456.2,430.5 456.8,430.3 457.3,430.3 457.9,430.2 458.4,430.6 459,431.2 459.5,431 460,430.2 460.6,430.4 461.1,431.5 461.7,430.8" fill="none" stroke="#0a0a0a" stroke-width="3.2" stroke-linejoin="bevel" stroke-linecap="round"/>
<polyline points="461.1,431.5 461.7,430.8 462.2,431.7 462.8,430.9 463.3,431 463.9,432 464.4,431.7 464.9,432.1 465.5,432.2 466,431.2 466.6,431.5 467.1,431.5 467.7,431.8 468.2,431.7 468.8,431.9" fill="none" stroke="#0a0a0a" stroke-width="3.2" stroke-linejoin="bevel" stroke-linecap="round"/>
<polyline points="468.2,431.7 468.8,431.9 469.3,432.1 469.8,431.9 470.4,432.3 470.9,432.9 471.5,432.9 472,432.2 472.6,432.5 473.1,432.7 473.7,433.6 474.2,433 474.8,433.2 475.3,432.9 475.8,432.7" fill="none" stroke="#0a0a0a" stroke-width="3.2" stroke-linejoin="bevel" stroke-linecap="round"/>
<polyline points="475.3,432.9 475.8,432.7 476.4,433.4 476.9,433.4 477.5,434.1 478,434 478.6,433.7 479.1,433.2 479.7,434.4 480.2,433.7 480.7,434.1 481.3,434.3 481.8,434.4 482.4,434.5 482.9,435" fill="none" stroke="#0a0a0a" stroke-width="3.2" stroke-linejoin="bevel" stroke-linecap="round"/>
<polyline points="482.4,434.5 482.9,435 483.5,434.2 484,435.3 484.6,434.7 485.1,435.3 485.7,435.2 486.2,435.3 486.7,434.7 487.3,435.7 487.8,434.7 488.4,435.1 488.9,434.9 489.5,435.3 490,436.2" fill="none" stroke="#0a0a0a" stroke-width="3.2" stroke-linejoin="bevel" stroke-linecap="round"/>
<polyline points="489.5,435.3 490,436.2 490.6,436.3 491.1,436.3 491.6,435.4 492.2,436 492.7,436.3 493.3,436.8 493.8,436.2 494.4,436.5 494.9,436.2 495.5,437 496,437.1 496.6,437.3 497.1,437.3" fill="none" stroke="#0a0a0a" stroke-width="3.3" stroke-linejoin="bevel" stroke-linecap="round"/>
<polyline points="496.6,437.3 497.1,437.3 497.7,436.1 498.2,437.2 498.8,436.8 499.3,437.6 499.8,436.9 500.4,436.5 500.9,437.2 501.5,436.6 502,436.9 502.6,438 503.1,438.1 503.7,437.7 504.2,437.4" fill="none" stroke="#0a0a0a" stroke-width="3.3" stroke-linejoin="bevel" stroke-linecap="round"/>
<polyline points="503.7,437.7 504.2,437.4 504.8,436.8 505.3,437.3 505.9,437.3 506.4,437.8 507,437.8 507.5,438.1 508.1,438.2 508.6,438.1 509.2,438.2 509.7,437.4 510.3,437.4 510.8,437.8 511.4,438.4" fill="none" stroke="#0a0a0a" stroke-width="3.3" stroke-linejoin="bevel" stroke-linecap="round"/>
<polyline points="510.8,437.8 511.4,438.4 511.9,437.5 512.5,438.5 513,438.7 513.6,438.8 514.1,438.5 514.7,438.4 515.2,438.2 515.8,439 516.3,439.1 516.9,438.6 517.4,439 518,438.5" fill="none" stroke="#0a0a0a" stroke-width="3.3" stroke-linejoin="bevel" stroke-linecap="round"/>
<text x="430.2" y="364.3" font-size="14.6" font-weight="bold" text-anchor="start" class="b">WT +</text>
<text x="433.8" y="379.3" font-size="14.6" font-weight="bold" text-anchor="start" class="b">SB216763</text>
<text x="430.1" y="455.8" font-size="14.5" font-weight="bold" text-anchor="start" class="b">WT + DMSO</text>
<line x1="349" y1="480" x2="349" y2="490.2" stroke="#0a0a0a" stroke-width="1.5" stroke-linecap="butt"/>
<polygon points="344.3,488.2 353.7,488.2 349,501" fill="#0a0a0a"/>
<text x="356.5" y="491" font-size="14.7" font-weight="normal" text-anchor="start">ADP 5µM</text>
<text x="320" y="516" font-size="14.5" font-weight="bold" text-anchor="start" class="b">0%</text>
<text x="318.2" y="624.8" font-size="14.5" font-weight="bold" text-anchor="start" class="b">50%</text>
<line x1="326.4" y1="522.5" x2="326.4" y2="598.4" stroke="#0a0a0a" stroke-width="1.3" stroke-linecap="butt"/>
<polygon points="321.8,596.4 331,596.4 326.4,609.9" fill="#0a0a0a"/>
<text class="b" transform="translate(295.2 560) rotate(-90)" font-size="14.8" font-weight="bold" text-anchor="middle">Light</text>
<text class="b" transform="translate(310.2 558.2) rotate(-90)" font-size="14.8" font-weight="bold" text-anchor="middle">Transmittance</text>
<line x1="349" y1="500" x2="349" y2="520" stroke="#7e7e7e" stroke-width="2" stroke-linecap="butt"/>
<polyline points="331,520.2 331.8,520.2 332.7,520.2 333.5,520 334.3,520.3 335.1,520.3 336,519.9 336.8,519.8 337.6,520.1 338.4,519.9 339.3,520.2 340.1,519.7 340.9,519.8 341.8,519.8 342.6,519.7 343.4,519.7 344.2,519.7 345.1,519.8 345.9,519.7 346.7,520 347.6,520 348.4,519.9 349.2,520 350,519.8 350.9,520.3 351.7,519.9 352.5,520.2 353.3,519.9 354.2,520.3 355,519.8" fill="none" stroke="#7e7e7e" stroke-width="2.6" stroke-linejoin="round" stroke-linecap="round"/>
<polyline points="354,519.1 354.6,519.2 355.1,519.1 355.7,519.5 356.2,519.5 356.8,519.2 357.3,519.2 357.9,519.5 358.4,519.6 359,519.6 359.5,519.6 360.1,519.5 360.6,519.4 361.1,519.6" fill="none" stroke="#7e7e7e" stroke-width="2.7" stroke-linejoin="bevel" stroke-linecap="round"/>
<polyline points="360.6,519.4 361.1,519.6 361.7,519.7 362.2,520.1 362.7,520.2 363.3,520.3 363.8,520.7 364.3,520.8 364.8,520.8 365.3,521.1 365.8,521.4 366.3,521.6 366.8,522 367.3,522.3 367.8,522.6" fill="none" stroke="#7e7e7e" stroke-width="2.7" stroke-linejoin="bevel" stroke-linecap="round"/>
<polyline points="367.3,522.3 367.8,522.6 368.3,522.6 368.8,522.9 369.3,523.2 369.8,523.4 370.3,523.8 370.8,523.9 371.3,524.2 371.8,524.5 372.3,524.6 372.8,524.9 373.3,524.9 373.8,525.2 374.3,525.4" fill="none" stroke="#7e7e7e" stroke-width="2.7" stroke-linejoin="bevel" stroke-linecap="round"/>
<polyline points="373.8,525.2 374.3,525.4 374.8,525.5 375.3,525.8 375.8,526.4 376.3,526.3 376.8,526.5 377.3,527 377.8,527.2 378.2,527.4 378.7,527.6 379.2,527.9 379.6,528.1 380.1,528.4" fill="none" stroke="#7e7e7e" stroke-width="2.7" stroke-linejoin="bevel" stroke-linecap="round"/>
<polyline points="379.6,528.1 380.1,528.4 380.6,528.9 381,529.3 381.5,529.6 381.9,530 382.4,530.4 382.9,530.5 383.3,530.7 383.8,531.3 384.3,531.2 384.8,531.6 385.2,531.7 385.7,532.1 386.2,532.5" fill="none" stroke="#7e7e7e" stroke-width="2.7" stroke-linejoin="bevel" stroke-linecap="round"/>
<polyline points="385.7,532.1 386.2,532.5 386.7,532.3 387.2,532.9 387.7,532.7 388.2,533.3 388.7,533.3 389.3,533.6 389.8,533.7 390.3,534.2 390.8,534.2 391.3,534.4 391.8,534.6 392.4,534.7 392.9,534.8" fill="none" stroke="#7e7e7e" stroke-width="2.7" stroke-linejoin="bevel" stroke-linecap="round"/>
<polyline points="392.4,534.7 392.9,534.8 393.4,535 393.9,535.5 394.4,535.5 395,535.7 395.5,536 396,536.3 396.6,536.1 397.1,536.6 397.6,536.8 398.1,536.6 398.7,536.7 399.2,537.3" fill="none" stroke="#7e7e7e" stroke-width="2.7" stroke-linejoin="bevel" stroke-linecap="round"/>
<polyline points="398.7,536.7 399.2,537.3 399.7,537.1 400.3,537.2 400.8,537.4 401.3,537.6 401.9,537.6 402.4,537.9 402.9,538.2 403.5,538.5 404,538.7 404.5,538.8 405.1,539 405.6,538.8 406.1,539.2" fill="none" stroke="#7e7e7e" stroke-width="2.7" stroke-linejoin="bevel" stroke-linecap="round"/>
<polyline points="405.6,538.8 406.1,539.2 406.7,539.2 407.2,539 407.7,539.3 408.3,539.4 408.8,539.6 409.3,539.7 409.9,539.9 410.4,539.9 410.9,540.1 411.5,540.2 412,540.6 412.5,540.5 413.1,540.5" fill="none" stroke="#7e7e7e" stroke-width="2.7" stroke-linejoin="bevel" stroke-linecap="round"/>
<polyline points="412.5,540.5 413.1,540.5 413.6,541.1 414.1,541 414.7,541.4 415.2,541.4 415.8,541.2 416.3,541.3 416.8,541.8 417.4,541.6 417.9,541.6 418.5,542.1 419,541.8 419.5,541.9" fill="none" stroke="#7e7e7e" stroke-width="2.7" stroke-linejoin="bevel" stroke-linecap="round"/>
<polyline points="419,541.8 419.5,541.9 420.1,542.5 420.6,542.3 421.2,542.7 421.7,542.7 422.3,542.5 422.8,543.1 423.3,542.9 423.9,543.2 424.4,543.3 425,543.2 425.5,543.6 426.1,543.2 426.6,543.5" fill="none" stroke="#7e7e7e" stroke-width="2.7" stroke-linejoin="bevel" stroke-linecap="round"/>
<polyline points="426.1,543.2 426.6,543.5 427.1,544 427.7,543.6 428.2,543.9 428.8,544.2 429.3,543.9 429.9,544.1 430.4,544.1 431,544.5 431.5,544.5 432,544.5 432.6,544.9 433.1,544.9 433.7,544.6" fill="none" stroke="#7e7e7e" stroke-width="2.7" stroke-linejoin="bevel" stroke-linecap="round"/>
<polyline points="433.1,544.9 433.7,544.6 434.2,545.3 434.8,545.1 435.3,545.3 435.9,545.3 436.4,545.6 436.9,545.3 437.5,545.4 438,545.6 438.6,545.5 439.1,545.7 439.7,546.1 440.2,546.1" fill="none" stroke="#7e7e7e" stroke-width="2.8" stroke-linejoin="bevel" stroke-linecap="round"/>
<polyline points="439.7,546.1 440.2,546.1 440.8,545.8 441.3,546.3 441.9,545.9 442.4,546 442.9,546.2 443.5,546.5 444,546.2 444.6,546.6 445.1,546.7 445.7,547 446.2,546.7 446.8,547.2 447.3,546.8" fill="none" stroke="#7e7e7e" stroke-width="2.8" stroke-linejoin="bevel" stroke-linecap="round"/>
<polyline points="446.8,547.2 447.3,546.8 447.9,547.2 448.4,547.2 449,547.2 449.5,547.1 450.1,547 450.6,547.3 451.2,547.4 451.7,547.6 452.2,547.3 452.8,547.6 453.3,548 453.9,548 454.4,547.8" fill="none" stroke="#7e7e7e" stroke-width="2.8" stroke-linejoin="bevel" stroke-linecap="round"/>
<polyline points="453.9,548 454.4,547.8 455,547.9 455.5,548.3 456.1,548.4 456.6,547.9 457.2,548.2 457.7,548.3 458.3,548.3 458.8,548.2 459.4,548.6 459.9,548.6 460.5,548.6 461,548.4" fill="none" stroke="#7e7e7e" stroke-width="2.8" stroke-linejoin="bevel" stroke-linecap="round"/>
<polyline points="460.5,548.6 461,548.4 461.6,548.9 462.1,548.7 462.7,548.9 463.2,548.8 463.8,548.6 464.3,549.3 464.9,549.1 465.4,548.9 466,549.2 466.5,549 467.1,549.6 467.6,549.4 468.2,549.2" fill="none" stroke="#7e7e7e" stroke-width="2.8" stroke-linejoin="bevel" stroke-linecap="round"/>
<polyline points="467.6,549.4 468.2,549.2 468.7,549.8 469.2,549.7 469.8,549.4 470.3,549.8 470.9,549.5 471.4,550 472,549.8 472.5,550.2 473.1,549.7 473.6,549.9 474.2,550.1 474.7,550.5 475.3,549.9" fill="none" stroke="#7e7e7e" stroke-width="2.8" stroke-linejoin="bevel" stroke-linecap="round"/>
<polyline points="474.7,550.5 475.3,549.9 475.8,550.7 476.4,550 476.9,550.2 477.5,550.5 478,550.5 478.6,550.6 479.1,550.3 479.7,550.8 480.2,550.9 480.8,550.9 481.3,551.2 481.9,550.8" fill="none" stroke="#7e7e7e" stroke-width="2.8" stroke-linejoin="bevel" stroke-linecap="round"/>
<polyline points="481.3,551.2 481.9,550.8 482.4,550.9 483,550.8 483.5,551.3 484.1,550.8 484.6,551.5 485.2,551.6 485.7,551.3 486.3,551.3 486.8,551.3 487.4,551.7 487.9,551.9 488.5,551.3 489,551.8" fill="none" stroke="#7e7e7e" stroke-width="2.8" stroke-linejoin="bevel" stroke-linecap="round"/>
<polyline points="488.5,551.3 489,551.8 489.6,551.9 490.1,551.6 490.7,551.7 491.2,551.4 491.8,551.7 492.3,551.9 492.9,552 493.4,552.2 494,552.3 494.5,552 495.1,552 495.6,552 496.2,552.2" fill="none" stroke="#7e7e7e" stroke-width="2.8" stroke-linejoin="bevel" stroke-linecap="round"/>
<polyline points="495.6,552 496.2,552.2 496.7,552 497.3,552.5 497.8,552.1 498.4,552.6 498.9,552.2 499.5,552.9 500,552.9 500.6,552.8 501.1,553.2 501.7,552.7 502.2,552.8 502.8,552.7" fill="none" stroke="#7e7e7e" stroke-width="2.8" stroke-linejoin="bevel" stroke-linecap="round"/>
<polyline points="502.2,552.8 502.8,552.7 503.3,553 503.9,553 504.4,553.5 505,553.2 505.5,552.7 506.1,553 506.6,553.4 507.2,553.6 507.7,553.5 508.3,553.8 508.8,553.8 509.4,553.8 509.9,553.7" fill="none" stroke="#7e7e7e" stroke-width="2.8" stroke-linejoin="bevel" stroke-linecap="round"/>
<polyline points="509.4,553.8 509.9,553.7 510.5,553.5 511,553.3 511.6,553.8 512.1,554 512.7,554.2 513.2,554 513.8,553.9 514.3,553.6 514.9,554 515.4,554.5 516,554.2 516.5,554.4" fill="none" stroke="#7e7e7e" stroke-width="2.8" stroke-linejoin="bevel" stroke-linecap="round"/>
<line x1="347.7" y1="509.8" x2="347.7" y2="526" stroke="#0a0a0a" stroke-width="2.9" stroke-linecap="butt"/>
<polyline points="334,524.9 334.9,523.8 335.7,523.8 336.6,524.6 337.4,523.5 338.3,523.9 339.1,524.7 340,524.7 340.9,523.7 341.7,523.4 342.6,524.9 343.4,524.2 344.3,524.2 345.1,524.5 346,524.6 346.9,524 347.7,524.3 348.6,524.7 349.4,524 350.3,524.3 351.1,523.9 352,524.9" fill="none" stroke="#0a0a0a" stroke-width="2.6" stroke-linejoin="round" stroke-linecap="round"/>
<polyline points="351,523.8 351.6,524.1 352.2,524.1 352.8,524.2 353.4,524.1 353.9,524.6 354.5,524.5 355,524.7 355.5,524.6 355.9,524.9 356.3,525.4 356.7,525.2 357.1,525.8 357.4,526.1 357.8,526.7 358.1,527.3" fill="none" stroke="#0a0a0a" stroke-width="3.1" stroke-linejoin="bevel" stroke-linecap="round"/>
<polyline points="357.8,526.7 358.1,527.3 358.5,528 358.8,528.3 359.1,528.9 359.5,529.2 359.8,529.8 360.2,529.8 360.5,530.6 360.9,531 361.2,531.6 361.5,531.5 361.9,531.9 362.2,532.3 362.5,532.8 362.8,533.4" fill="none" stroke="#0a0a0a" stroke-width="3.2" stroke-linejoin="bevel" stroke-linecap="round"/>
<polyline points="362.5,532.8 362.8,533.4 363.2,534 363.5,534.4 363.8,534.6 364.1,535.5 364.4,535.6 364.8,536.5 365.1,536.6 365.4,536.9 365.6,537.4 365.9,537.8 366.2,538.4 366.5,539.2 366.8,539.5 367,539.7" fill="none" stroke="#0a0a0a" stroke-width="3.2" stroke-linejoin="bevel" stroke-linecap="round"/>
<polyline points="366.8,539.5 367,539.7 367.3,540.4 367.6,540.9 367.9,541.4 368.1,542.2 368.4,542.3 368.7,543 368.9,543.2 369.2,543.9 369.5,544.6 369.8,544.8 370.1,545.1 370.4,545.9 370.7,546.6 371,546.9" fill="none" stroke="#0a0a0a" stroke-width="3.2" stroke-linejoin="bevel" stroke-linecap="round"/>
<polyline points="370.7,546.6 371,546.9 371.3,547.2 371.6,547.7 371.9,547.9 372.3,548.4 372.6,549.1 373,549.5 373.3,549.7 373.7,550.3 374.1,550.7 374.5,550.9 374.9,551.6 375.3,551.7 375.7,552.1 376.1,552.6" fill="none" stroke="#0a0a0a" stroke-width="3.3" stroke-linejoin="bevel" stroke-linecap="round"/>
<polyline points="375.7,552.1 376.1,552.6 376.5,552.9 376.9,553.4 377.3,553.7 377.7,553.9 378.2,554.4 378.6,554.9 379,554.9 379.5,555.2 379.9,555.9 380.4,555.7 380.8,556.4 381.3,556.3 381.7,557.2 382.2,557.7" fill="none" stroke="#0a0a0a" stroke-width="3.3" stroke-linejoin="bevel" stroke-linecap="round"/>
<polyline points="381.7,557.2 382.2,557.7 382.6,558 383.1,557.9 383.5,558.6 384,558.7 384.4,558.7 384.9,558.8 385.4,559.6 385.8,559.7 386.3,560.4 386.7,560.7 387.2,560.7 387.7,561 388.2,560.9 388.6,561.4" fill="none" stroke="#0a0a0a" stroke-width="3.4" stroke-linejoin="bevel" stroke-linecap="round"/>
<polyline points="388.2,560.9 388.6,561.4 389.1,562.1 389.6,562.1 390.1,562.2 390.6,562.6 391.1,562.9 391.6,563.1 392.1,563.4 392.5,563.7 393,564.3 393.5,564.5 394,564.5 394.5,564.3 395.1,565.2 395.6,565.3" fill="none" stroke="#0a0a0a" stroke-width="3.4" stroke-linejoin="bevel" stroke-linecap="round"/>
<polyline points="395.1,565.2 395.6,565.3 396.1,565 396.6,565.9 397.1,565.8 397.6,565.8 398.1,566.5 398.6,566.3 399.1,567 399.6,567 400.1,566.9 400.6,567.1 401.2,567.2 401.7,567.3 402.2,567.6 402.7,567.8" fill="none" stroke="#0a0a0a" stroke-width="3.5" stroke-linejoin="bevel" stroke-linecap="round"/>
<polyline points="402.2,567.6 402.7,567.8 403.2,567.9 403.7,568.2 404.3,568.3 404.8,569 405.3,568.9 405.8,568.7 406.4,569.2 406.9,569.1 407.4,569.7 408,569.6 408.5,570.2 409,569.6 409.6,569.8 410.1,570.5" fill="none" stroke="#0a0a0a" stroke-width="3.5" stroke-linejoin="bevel" stroke-linecap="round"/>
<polyline points="409.6,569.8 410.1,570.5 410.6,570.2 411.2,570.1 411.7,570.8 412.2,571.2 412.8,571 413.3,571.1 413.9,570.8 414.4,571.7 414.9,572 415.5,571.2 416,571.5 416.6,571.6 417.1,572.4 417.6,572.7" fill="none" stroke="#0a0a0a" stroke-width="3.5" stroke-linejoin="bevel" stroke-linecap="round"/>
<polyline points="417.1,572.4 417.6,572.7 418.2,572.7 418.7,572.1 419.3,572.4 419.8,572.8 420.3,572.5 420.9,573.3 421.4,572.9 422,572.8 422.5,572.9 423,573.8 423.6,573 424.1,574 424.7,573.2 425.2,574.1" fill="none" stroke="#0a0a0a" stroke-width="3.6" stroke-linejoin="bevel" stroke-linecap="round"/>
<polyline points="424.7,573.2 425.2,574.1 425.7,573.6 426.3,574.4 426.8,574.5 427.4,574.6 427.9,574 428.5,573.8 429,574.9 429.6,574.6 430.1,574.3 430.6,574.7 431.2,575.2 431.7,574.4 432.3,575.1 432.8,574.5" fill="none" stroke="#0a0a0a" stroke-width="3.6" stroke-linejoin="bevel" stroke-linecap="round"/>
<polyline points="432.3,575.1 432.8,574.5 433.4,575 433.9,575.4 434.5,575.2 435,575.7 435.6,575.4 436.1,575.6 436.7,575.5 437.2,575.7 437.7,575.7 438.3,575.6 438.8,575.6 439.4,576.3 439.9,575.8 440.5,575.7" fill="none" stroke="#0a0a0a" stroke-width="3.7" stroke-linejoin="bevel" stroke-linecap="round"/>
<polyline points="439.9,575.8 440.5,575.7 441,576.8 441.6,576 442.1,576 442.7,576.6 443.2,576.5 443.8,576.9 444.3,576.8 444.9,576.9 445.4,577.1 446,576.5 446.5,577.3 447.1,577 447.6,577.4 448.2,577.3" fill="none" stroke="#0a0a0a" stroke-width="3.7" stroke-linejoin="bevel" stroke-linecap="round"/>
<polyline points="447.6,577.4 448.2,577.3 448.7,576.8 449.3,577 449.8,577.3 450.4,576.9 450.9,577.6 451.5,577.1 452,577.7 452.6,578.4 453.1,578.3 453.7,578.1 454.2,577.4 454.8,577.9 455.3,577.9 455.8,577.8" fill="none" stroke="#0a0a0a" stroke-width="3.7" stroke-linejoin="bevel" stroke-linecap="round"/>
<polyline points="455.3,577.9 455.8,577.8 456.4,578.7 456.9,578.1 457.5,578 458,578.7 458.6,578.1 459.1,578.8 459.7,578.3 460.2,578.8 460.8,578.6 461.3,579.2 461.9,578.4 462.4,579.4 463,578.4 463.5,578.4" fill="none" stroke="#0a0a0a" stroke-width="3.8" stroke-linejoin="bevel" stroke-linecap="round"/>
<polyline points="463,578.4 463.5,578.4 464.1,579.7 464.6,579 465.2,579.2 465.7,578.7 466.3,579.8 466.8,579.3 467.4,579.7 467.9,579.6 468.5,579.1 469,579.7 469.6,579.2 470.1,579.8 470.7,579.7 471.2,579.2" fill="none" stroke="#0a0a0a" stroke-width="3.8" stroke-linejoin="bevel" stroke-linecap="round"/>
<polyline points="470.7,579.7 471.2,579.2 471.8,579.5 472.3,579.4 472.9,579.6 473.4,580.3 474,579.3 474.5,579.7 475.1,580.6 475.6,579.6 476.2,579.9 476.7,580 477.3,580.5 477.8,581 478.4,580.4 478.9,580.5" fill="none" stroke="#0a0a0a" stroke-width="3.9" stroke-linejoin="bevel" stroke-linecap="round"/>
<polyline points="478.4,580.4 478.9,580.5 479.5,581.1 480,580.8 480.6,580.4 481.1,581 481.7,580.5 482.3,580.2 482.8,580.5 483.4,580.7 483.9,580.9 484.5,580.6 485,581.4 485.6,580.9 486.1,581.7 486.7,581.7" fill="none" stroke="#0a0a0a" stroke-width="3.9" stroke-linejoin="bevel" stroke-linecap="round"/>
<polyline points="486.1,581.7 486.7,581.7 487.2,581.6 487.8,581.9 488.3,580.9 488.9,580.8 489.4,581.2 490,581.6 490.5,581.1 491.1,581.9 491.6,581.7 492.2,581.1 492.7,581.1 493.3,581.7 493.8,582.3 494.4,581.2" fill="none" stroke="#0a0a0a" stroke-width="4" stroke-linejoin="bevel" stroke-linecap="round"/>
<polyline points="493.8,582.3 494.4,581.2 494.9,582.2 495.5,581.9 496,582.6 496.6,582.4 497.1,581.4 497.7,582.8 498.2,582.2 498.8,582.8 499.3,582.1 499.9,581.6 500.4,583 501,582 501.5,582.1 502.1,583.1" fill="none" stroke="#0a0a0a" stroke-width="4" stroke-linejoin="bevel" stroke-linecap="round"/>
<polyline points="501.5,582.1 502.1,583.1 502.6,583.2 503.2,582.9 503.7,583.1 504.3,582.8 504.8,582.7 505.4,582.3 505.9,582.4 506.5,583.4 507,583.2 507.6,582.7 508.1,582.4 508.7,582.4 509.2,582.6 509.8,582.4" fill="none" stroke="#0a0a0a" stroke-width="4" stroke-linejoin="bevel" stroke-linecap="round"/>
<polyline points="509.2,582.6 509.8,582.4 510.3,582.8 510.9,582.4 511.4,583.9 512,583.9 512.5,583.1 513.1,583.1 513.6,583 514.2,582.8 514.7,583.9 515.3,583 515.8,584.2 516.4,583.5 516.9,583.3 517.5,583.6" fill="none" stroke="#0a0a0a" stroke-width="4.1" stroke-linejoin="bevel" stroke-linecap="round"/>
<text x="444.6" y="528.5" font-size="14.5" font-weight="bold" text-anchor="start" class="b">Akt3-/- +</text>
<text x="448" y="543.3" font-size="14.5" font-weight="bold" text-anchor="start" class="b">SB216763</text>
<text x="461.3" y="608.6" font-size="14.5" font-weight="bold" text-anchor="start" class="b">Akt3<tspan dy="-2.8" font-size="13.8">-/-</tspan></text>
<text x="461.8" y="622.4" font-size="14.5" font-weight="bold" text-anchor="start" class="b">+ DMSO</text>
</svg>
</body></html>
